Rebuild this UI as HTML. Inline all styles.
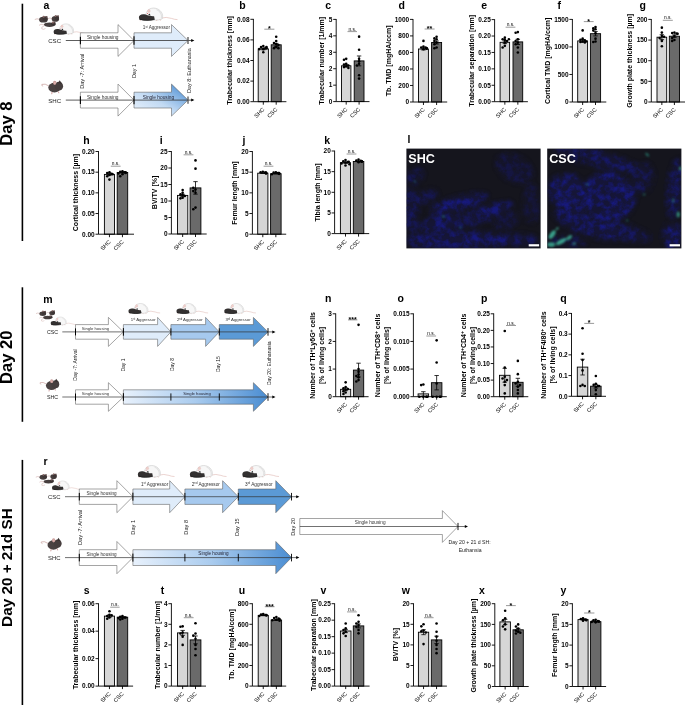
<!DOCTYPE html>
<html><head><meta charset="utf-8"><title>Figure</title>
<style>html,body{margin:0;padding:0;background:#fff}svg{display:block}text{font-family:"Liberation Sans",Arial,sans-serif}</style>
</head><body>
<svg width="685" height="705" viewBox="0 0 685 705" font-family="Liberation Sans, Arial, sans-serif">
<defs>
<linearGradient id="gS" x1="0" y1="1" x2="1" y2="0"><stop offset="0" stop-color="#eef5fd"/><stop offset="0.45" stop-color="#c2daf3"/><stop offset="1" stop-color="#3f86d0"/></linearGradient>
<linearGradient id="gL" x1="0" y1="0" x2="1" y2="0"><stop offset="0" stop-color="#e8f1fc"/><stop offset="0.5" stop-color="#a9cbee"/><stop offset="1" stop-color="#4a8dd2"/></linearGradient>
<filter id="bl" x="-20%" y="-20%" width="140%" height="140%"><feGaussianBlur stdDeviation="2.8"/></filter>
<filter id="bl1" x="-20%" y="-20%" width="140%" height="140%"><feGaussianBlur stdDeviation="0.9"/></filter>
<clipPath id="c1"><rect x="406.4" y="148.6" width="134.2" height="99.8"/></clipPath>
<clipPath id="c2"><rect x="547.2" y="148.6" width="134.2" height="99.8"/></clipPath>
</defs>
<rect width="685" height="705" fill="#fff"/>
<path d="M22.4 3.7V241" stroke="#000" stroke-width="1.6"/>
<path d="M22.4 287.3V421.8" stroke="#000" stroke-width="1.6"/>
<path d="M22.4 459.9V705" stroke="#000" stroke-width="1.6"/>
<text x="12.10" y="123.70" font-size="16.6" font-weight="bold" text-anchor="middle" fill="#000" transform="rotate(-90 12.10 123.70)">Day 8</text>
<text x="12.10" y="357.20" font-size="16.6" font-weight="bold" text-anchor="middle" fill="#000" transform="rotate(-90 12.10 357.20)">Day 20</text>
<text x="12.00" y="567.60" font-size="15.3" font-weight="bold" text-anchor="middle" fill="#000" transform="rotate(-90 12.00 567.60)">Day 20 + 21d SH</text>
<text x="43.60" y="8.80" font-size="10.5" font-weight="bold" text-anchor="start" fill="#000">a</text>
<g transform="translate(35.00 13.50) scale(1.0)">
<g transform="translate(8.40 5.80) scale(1.075 1.031)"><path d="M-3.5 0.2Q-6 -1.2 -8 0.2" stroke="#c9a3a0" stroke-width="0.6" fill="none"/><ellipse cx="0" cy="0.4" rx="4" ry="2.8" fill="#463e3e"/><ellipse cx="1.6" cy="-0.6" rx="2.4" ry="2.3" fill="#3d3535"/><circle cx="0.2" cy="-2.5" r="1.0" fill="#8a6a68"/><circle cx="3.0" cy="-2.4" r="0.9" fill="#6a5352"/></g>
<g transform="translate(20.40 5.00) scale(0.925 1.000)"><path d="M-3.5 0.2Q-6 -1.2 -8 0.2" stroke="#c9a3a0" stroke-width="0.6" fill="none"/><ellipse cx="0" cy="0.4" rx="4" ry="2.8" fill="#463e3e"/><ellipse cx="1.6" cy="-0.6" rx="2.4" ry="2.3" fill="#3d3535"/><circle cx="0.2" cy="-2.5" r="1.0" fill="#8a6a68"/><circle cx="3.0" cy="-2.4" r="0.9" fill="#6a5352"/></g>
<g transform="translate(14.50 10.90) scale(1.000 0.833)"><path d="M-5.5 0.5Q-9 -1 -10.5 1.2" stroke="#c9a3a0" stroke-width="0.6" fill="none"/><ellipse cx="0" cy="0.3" rx="5.6" ry="2.7" fill="#463e3e"/><ellipse cx="4.0" cy="-0.4" rx="2.4" ry="2.1" fill="#3a3333"/><circle cx="3.4" cy="-2.3" r="1.1" fill="#8a6a68"/><circle cx="5.1" cy="-2.2" r="0.9" fill="#5a4848"/></g>
<path d="M9.5 12.2Q5.5 13.6 6.8 15.4Q8.5 16.4 10.5 15" stroke="#c9a3a0" stroke-width="0.5" fill="none"/>
</g>
<g transform="translate(64.20 28.70) scale(0.84)"><path d="M9 4.4Q15 2.8 20 4.6Q23 5.8 26 5.8" stroke="#ddb3ad" stroke-width="0.6" fill="none"/><path d="M-5.8 2.5C-5.8 -3.7 -1 -6.4 3.5 -5.6C9 -4.8 12.6 0.5 10.6 5.2C7 6.8 0 6.4 -3 5.6Z" fill="#f7f7f7" stroke="#c2c2c2" stroke-width="0.55"/><path d="M5 -4.4C9 -2.6 11 1.6 9.8 4.8" stroke="#e2e2e2" stroke-width="1.2" fill="none"/><ellipse cx="-2.6" cy="-2.8" rx="1.4" ry="1.6" fill="#f0cfcb" stroke="#d8b3b0" stroke-width="0.3"/><circle cx="-3.9" cy="-0.4" r="0.5" fill="#c44"/><path d="M-12.6 3.8C-12.8 0.8 -9.2 -0.4 -5.8 0.8C-2.8 1.9 -0.6 2.6 2.6 2.4L3.2 5.8C-2 7.2 -9 7.0 -12 6.0Z" fill="#333030"/><path d="M-12.0 5.2C-8 6.9 -1 6.9 3.0 5.6" stroke="#1f1f1f" stroke-width="0.8" fill="none"/><path d="M-3.4 1.2l1.6 -1.4l0.8 2" fill="#222"/><path d="M5.0 6.2l0.4 1.0M8.4 5.6l0.6 1.2M-11 6.4l-0.3 0.9" stroke="#ddb3ad" stroke-width="0.7"/></g>
<text x="48.20" y="43.00" font-size="6.1" font-weight="normal" text-anchor="start" fill="#222">CSC</text>
<text x="48.20" y="102.90" font-size="6.1" font-weight="normal" text-anchor="start" fill="#222">SHC</text>
<path d="M80.40 32.80H118.00V24.60L134.00 40.50L118.00 56.40V48.20H80.40Z" fill="#fff" stroke="#5a5a5a" stroke-width="0.55" stroke-linejoin="miter"/>
<path d="M134.00 32.80H171.50V24.60L188.00 40.50L171.50 56.40V48.20H134.00Z" fill="#dfecfa" stroke="#5a5a5a" stroke-width="0.55" stroke-linejoin="miter"/>
<path d="M80.40 92.20H118.00V84.10L134.00 100.10L118.00 116.10V108.00H80.40Z" fill="#fff" stroke="#5a5a5a" stroke-width="0.55" stroke-linejoin="miter"/>
<path d="M134.00 92.20H171.50V84.10L188.00 100.10L171.50 116.10V108.00H134.00Z" fill="url(#gS)" stroke="#5a5a5a" stroke-width="0.55" stroke-linejoin="miter"/>
<path d="M65.80 40.50H192.40" stroke="#333" stroke-width="0.8"/>
<path d="M194.40 40.50l-3.2 -1.5v3z" fill="#000"/>
<path d="M65.80 100.10H192.40" stroke="#333" stroke-width="0.8"/>
<path d="M194.40 100.10l-3.2 -1.5v3z" fill="#000"/>
<path d="M80.40 36.70V44.30" stroke="#000" stroke-width="1.1"/>
<path d="M134.00 36.30V44.70" stroke="#000" stroke-width="1.1"/>
<path d="M188.00 36.90V44.10" stroke="#555" stroke-width="1.3"/>
<path d="M80.40 96.30V103.90" stroke="#000" stroke-width="1.1"/>
<path d="M134.00 95.90V104.30" stroke="#000" stroke-width="1.1"/>
<path d="M188.00 96.50V103.70" stroke="#555" stroke-width="1.3"/>
<text x="102.80" y="39.00" font-size="4.8" font-weight="normal" text-anchor="middle" fill="#333">Single housing</text>
<text x="102.80" y="98.60" font-size="4.8" font-weight="normal" text-anchor="middle" fill="#333">Single housing</text>
<text x="158.40" y="99.40" font-size="4.8" font-weight="normal" text-anchor="middle" fill="#223">Single housing</text>
<text x="156.40" y="29.00" font-size="4.7" font-weight="normal" text-anchor="middle" fill="#333">1<tspan font-size="60%" dy="-1.3">st</tspan><tspan dy="1.3"> Aggressor</tspan></text>
<g transform="translate(151.50 13.80) scale(1.0)"><path d="M9 4.4Q15 2.8 20 4.6Q23 5.8 26 5.8" stroke="#ddb3ad" stroke-width="0.6" fill="none"/><path d="M-5.8 2.5C-5.8 -3.7 -1 -6.4 3.5 -5.6C9 -4.8 12.6 0.5 10.6 5.2C7 6.8 0 6.4 -3 5.6Z" fill="#f7f7f7" stroke="#c2c2c2" stroke-width="0.55"/><path d="M5 -4.4C9 -2.6 11 1.6 9.8 4.8" stroke="#e2e2e2" stroke-width="1.2" fill="none"/><ellipse cx="-2.6" cy="-2.8" rx="1.4" ry="1.6" fill="#f0cfcb" stroke="#d8b3b0" stroke-width="0.3"/><circle cx="-3.9" cy="-0.4" r="0.5" fill="#c44"/><path d="M-12.6 3.8C-12.8 0.8 -9.2 -0.4 -5.8 0.8C-2.8 1.9 -0.6 2.6 2.6 2.4L3.2 5.8C-2 7.2 -9 7.0 -12 6.0Z" fill="#333030"/><path d="M-12.0 5.2C-8 6.9 -1 6.9 3.0 5.6" stroke="#1f1f1f" stroke-width="0.8" fill="none"/><path d="M-3.4 1.2l1.6 -1.4l0.8 2" fill="#222"/><path d="M5.0 6.2l0.4 1.0M8.4 5.6l0.6 1.2M-11 6.4l-0.3 0.9" stroke="#ddb3ad" stroke-width="0.7"/></g>
<g transform="translate(55.50 86.80) scale(1.0)"><path d="M-6.6 -0.8Q-10.5 -3.6 -13.6 -2.4Q-14.6 -1.4 -12.4 -0.6" stroke="#c79c99" stroke-width="0.7" fill="none"/><ellipse cx="-1.0" cy="0.8" rx="6.2" ry="4.9" fill="#4a4242"/><ellipse cx="3.4" cy="-0.6" rx="4.2" ry="4.4" fill="#463e3e"/><path d="M2.6 -3.6L4.2 -6.6L6.6 -3Z" fill="#3a3232"/><ellipse cx="-0.8" cy="-4.0" rx="1.7" ry="2.1" fill="#c79a97"/><ellipse cx="-0.7" cy="-3.8" rx="1.0" ry="1.3" fill="#dcb0ac"/><path d="M-3.4 5.2l-0.4 2.2M3.0 4.8l0.3 1.6" stroke="#c98f8f" stroke-width="0.9"/></g>
<text x="84.22" y="71.30" font-size="5.6" font-weight="normal" text-anchor="middle" fill="#222" transform="rotate(-90 84.22 71.30)">Day -7: Arrival</text>
<text x="135.94" y="71.00" font-size="5.4" font-weight="normal" text-anchor="middle" fill="#222" transform="rotate(-90 135.94 71.00)">Day 1</text>
<text x="190.78" y="70.60" font-size="5.5" font-weight="normal" text-anchor="middle" fill="#222" transform="rotate(-90 190.78 70.60)">Day 8: Euthanasia</text>
<text x="43.20" y="302.90" font-size="10.5" font-weight="bold" text-anchor="start" fill="#000">m</text>
<g transform="translate(36.20 308.90) scale(0.78)">
<g transform="translate(8.40 5.80) scale(1.075 1.031)"><path d="M-3.5 0.2Q-6 -1.2 -8 0.2" stroke="#c9a3a0" stroke-width="0.6" fill="none"/><ellipse cx="0" cy="0.4" rx="4" ry="2.8" fill="#463e3e"/><ellipse cx="1.6" cy="-0.6" rx="2.4" ry="2.3" fill="#3d3535"/><circle cx="0.2" cy="-2.5" r="1.0" fill="#8a6a68"/><circle cx="3.0" cy="-2.4" r="0.9" fill="#6a5352"/></g>
<g transform="translate(20.40 5.00) scale(0.925 1.000)"><path d="M-3.5 0.2Q-6 -1.2 -8 0.2" stroke="#c9a3a0" stroke-width="0.6" fill="none"/><ellipse cx="0" cy="0.4" rx="4" ry="2.8" fill="#463e3e"/><ellipse cx="1.6" cy="-0.6" rx="2.4" ry="2.3" fill="#3d3535"/><circle cx="0.2" cy="-2.5" r="1.0" fill="#8a6a68"/><circle cx="3.0" cy="-2.4" r="0.9" fill="#6a5352"/></g>
<g transform="translate(14.50 10.90) scale(1.000 0.833)"><path d="M-5.5 0.5Q-9 -1 -10.5 1.2" stroke="#c9a3a0" stroke-width="0.6" fill="none"/><ellipse cx="0" cy="0.3" rx="5.6" ry="2.7" fill="#463e3e"/><ellipse cx="4.0" cy="-0.4" rx="2.4" ry="2.1" fill="#3a3333"/><circle cx="3.4" cy="-2.3" r="1.1" fill="#8a6a68"/><circle cx="5.1" cy="-2.2" r="0.9" fill="#5a4848"/></g>
<path d="M9.5 12.2Q5.5 13.6 6.8 15.4Q8.5 16.4 10.5 15" stroke="#c9a3a0" stroke-width="0.5" fill="none"/>
</g>
<g transform="translate(58.98 320.76) scale(0.6552)"><path d="M9 4.4Q15 2.8 20 4.6Q23 5.8 26 5.8" stroke="#ddb3ad" stroke-width="0.6" fill="none"/><path d="M-5.8 2.5C-5.8 -3.7 -1 -6.4 3.5 -5.6C9 -4.8 12.6 0.5 10.6 5.2C7 6.8 0 6.4 -3 5.6Z" fill="#f7f7f7" stroke="#c2c2c2" stroke-width="0.55"/><path d="M5 -4.4C9 -2.6 11 1.6 9.8 4.8" stroke="#e2e2e2" stroke-width="1.2" fill="none"/><ellipse cx="-2.6" cy="-2.8" rx="1.4" ry="1.6" fill="#f0cfcb" stroke="#d8b3b0" stroke-width="0.3"/><circle cx="-3.9" cy="-0.4" r="0.5" fill="#c44"/><path d="M-12.6 3.8C-12.8 0.8 -9.2 -0.4 -5.8 0.8C-2.8 1.9 -0.6 2.6 2.6 2.4L3.2 5.8C-2 7.2 -9 7.0 -12 6.0Z" fill="#333030"/><path d="M-12.0 5.2C-8 6.9 -1 6.9 3.0 5.6" stroke="#1f1f1f" stroke-width="0.8" fill="none"/><path d="M-3.4 1.2l1.6 -1.4l0.8 2" fill="#222"/><path d="M5.0 6.2l0.4 1.0M8.4 5.6l0.6 1.2M-11 6.4l-0.3 0.9" stroke="#ddb3ad" stroke-width="0.7"/></g>
<text x="47.00" y="334.00" font-size="5.3" font-weight="normal" text-anchor="start" fill="#222">CSC</text>
<text x="47.00" y="399.40" font-size="5.3" font-weight="normal" text-anchor="start" fill="#222">SHC</text>
<path d="M75.50 324.60H108.40V317.40L123.40 331.90L108.40 346.40V339.20H75.50Z" fill="#fff" stroke="#5a5a5a" stroke-width="0.55" stroke-linejoin="miter"/>
<path d="M123.40 324.60H157.60V317.40L170.90 331.90L157.60 346.40V339.20H123.40Z" fill="#dfecfa" stroke="#5a5a5a" stroke-width="0.55" stroke-linejoin="miter"/>
<path d="M170.90 324.60H205.60V317.40L219.30 331.90L205.60 346.40V339.20H170.90Z" fill="#a6c9ee" stroke="#5a5a5a" stroke-width="0.55" stroke-linejoin="miter"/>
<path d="M219.30 324.60H253.40V317.40L268.00 331.90L253.40 346.40V339.20H219.30Z" fill="#5b9ad6" stroke="#5a5a5a" stroke-width="0.55" stroke-linejoin="miter"/>
<path d="M75.50 389.80H108.40V382.70L123.40 397.00L108.40 411.30V404.20H75.50Z" fill="#fff" stroke="#5a5a5a" stroke-width="0.55" stroke-linejoin="miter"/>
<path d="M123.40 389.80H253.40V382.70L268.00 397.00L253.40 411.30V404.20H123.40Z" fill="url(#gL)" stroke="#5a5a5a" stroke-width="0.55" stroke-linejoin="miter"/>
<path d="M62.30 331.90H273.50" stroke="#333" stroke-width="0.7"/>
<path d="M275.50 331.90l-3.2 -1.5v3z" fill="#000"/>
<path d="M62.30 397.00H273.50" stroke="#333" stroke-width="0.7"/>
<path d="M275.50 397.00l-3.2 -1.5v3z" fill="#000"/>
<path d="M75.50 328.40V335.40" stroke="#000" stroke-width="1.0"/>
<path d="M123.40 328.10V335.70" stroke="#000" stroke-width="1.0"/>
<path d="M170.90 328.30V335.50" stroke="#000" stroke-width="0.9"/>
<path d="M219.30 328.30V335.50" stroke="#000" stroke-width="0.9"/>
<path d="M268.00 328.10V335.70" stroke="#000" stroke-width="0.9"/>
<path d="M75.50 393.50V400.50" stroke="#000" stroke-width="1.0"/>
<path d="M123.40 393.20V400.80" stroke="#000" stroke-width="1.0"/>
<path d="M170.90 393.40V400.60" stroke="#000" stroke-width="0.9"/>
<path d="M219.30 393.40V400.60" stroke="#000" stroke-width="0.9"/>
<path d="M268.00 393.20V400.80" stroke="#000" stroke-width="0.9"/>
<text x="95.40" y="330.20" font-size="4.2" font-weight="normal" text-anchor="middle" fill="#333">Single housing</text>
<text x="95.40" y="395.40" font-size="4.2" font-weight="normal" text-anchor="middle" fill="#333">Single housing</text>
<text x="197.00" y="395.00" font-size="4.2" font-weight="normal" text-anchor="middle" fill="#223">Single housing</text>
<text x="143.30" y="321.20" font-size="4.3" font-weight="normal" text-anchor="middle" fill="#333">1<tspan font-size="60%" dy="-1.3">st</tspan><tspan dy="1.3"> Aggressor</tspan></text>
<text x="189.80" y="321.20" font-size="4.3" font-weight="normal" text-anchor="middle" fill="#333">2<tspan font-size="60%" dy="-1.3">nd</tspan><tspan dy="1.3"> Aggressor</tspan></text>
<text x="238.00" y="321.20" font-size="4.3" font-weight="normal" text-anchor="middle" fill="#333">3<tspan font-size="60%" dy="-1.3">rd</tspan><tspan dy="1.3"> Aggressor</tspan></text>
<g transform="translate(138.80 308.20) scale(0.82)"><path d="M9 4.4Q15 2.8 20 4.6Q23 5.8 26 5.8" stroke="#ddb3ad" stroke-width="0.6" fill="none"/><path d="M-5.8 2.5C-5.8 -3.7 -1 -6.4 3.5 -5.6C9 -4.8 12.6 0.5 10.6 5.2C7 6.8 0 6.4 -3 5.6Z" fill="#f7f7f7" stroke="#c2c2c2" stroke-width="0.55"/><path d="M5 -4.4C9 -2.6 11 1.6 9.8 4.8" stroke="#e2e2e2" stroke-width="1.2" fill="none"/><ellipse cx="-2.6" cy="-2.8" rx="1.4" ry="1.6" fill="#f0cfcb" stroke="#d8b3b0" stroke-width="0.3"/><circle cx="-3.9" cy="-0.4" r="0.5" fill="#c44"/><path d="M-12.6 3.8C-12.8 0.8 -9.2 -0.4 -5.8 0.8C-2.8 1.9 -0.6 2.6 2.6 2.4L3.2 5.8C-2 7.2 -9 7.0 -12 6.0Z" fill="#333030"/><path d="M-12.0 5.2C-8 6.9 -1 6.9 3.0 5.6" stroke="#1f1f1f" stroke-width="0.8" fill="none"/><path d="M-3.4 1.2l1.6 -1.4l0.8 2" fill="#222"/><path d="M5.0 6.2l0.4 1.0M8.4 5.6l0.6 1.2M-11 6.4l-0.3 0.9" stroke="#ddb3ad" stroke-width="0.7"/></g>
<g transform="translate(186.80 308.20) scale(0.82)"><path d="M9 4.4Q15 2.8 20 4.6Q23 5.8 26 5.8" stroke="#ddb3ad" stroke-width="0.6" fill="none"/><path d="M-5.8 2.5C-5.8 -3.7 -1 -6.4 3.5 -5.6C9 -4.8 12.6 0.5 10.6 5.2C7 6.8 0 6.4 -3 5.6Z" fill="#f7f7f7" stroke="#c2c2c2" stroke-width="0.55"/><path d="M5 -4.4C9 -2.6 11 1.6 9.8 4.8" stroke="#e2e2e2" stroke-width="1.2" fill="none"/><ellipse cx="-2.6" cy="-2.8" rx="1.4" ry="1.6" fill="#f0cfcb" stroke="#d8b3b0" stroke-width="0.3"/><circle cx="-3.9" cy="-0.4" r="0.5" fill="#c44"/><path d="M-12.6 3.8C-12.8 0.8 -9.2 -0.4 -5.8 0.8C-2.8 1.9 -0.6 2.6 2.6 2.4L3.2 5.8C-2 7.2 -9 7.0 -12 6.0Z" fill="#333030"/><path d="M-12.0 5.2C-8 6.9 -1 6.9 3.0 5.6" stroke="#1f1f1f" stroke-width="0.8" fill="none"/><path d="M-3.4 1.2l1.6 -1.4l0.8 2" fill="#222"/><path d="M5.0 6.2l0.4 1.0M8.4 5.6l0.6 1.2M-11 6.4l-0.3 0.9" stroke="#ddb3ad" stroke-width="0.7"/></g>
<g transform="translate(234.60 308.20) scale(0.82)"><path d="M9 4.4Q15 2.8 20 4.6Q23 5.8 26 5.8" stroke="#ddb3ad" stroke-width="0.6" fill="none"/><path d="M-5.8 2.5C-5.8 -3.7 -1 -6.4 3.5 -5.6C9 -4.8 12.6 0.5 10.6 5.2C7 6.8 0 6.4 -3 5.6Z" fill="#f7f7f7" stroke="#c2c2c2" stroke-width="0.55"/><path d="M5 -4.4C9 -2.6 11 1.6 9.8 4.8" stroke="#e2e2e2" stroke-width="1.2" fill="none"/><ellipse cx="-2.6" cy="-2.8" rx="1.4" ry="1.6" fill="#f0cfcb" stroke="#d8b3b0" stroke-width="0.3"/><circle cx="-3.9" cy="-0.4" r="0.5" fill="#c44"/><path d="M-12.6 3.8C-12.8 0.8 -9.2 -0.4 -5.8 0.8C-2.8 1.9 -0.6 2.6 2.6 2.4L3.2 5.8C-2 7.2 -9 7.0 -12 6.0Z" fill="#333030"/><path d="M-12.0 5.2C-8 6.9 -1 6.9 3.0 5.6" stroke="#1f1f1f" stroke-width="0.8" fill="none"/><path d="M-3.4 1.2l1.6 -1.4l0.8 2" fill="#222"/><path d="M5.0 6.2l0.4 1.0M8.4 5.6l0.6 1.2M-11 6.4l-0.3 0.9" stroke="#ddb3ad" stroke-width="0.7"/></g>
<g transform="translate(52.40 384.80) scale(0.9)"><path d="M-6.6 -0.8Q-10.5 -3.6 -13.6 -2.4Q-14.6 -1.4 -12.4 -0.6" stroke="#c79c99" stroke-width="0.7" fill="none"/><ellipse cx="-1.0" cy="0.8" rx="6.2" ry="4.9" fill="#4a4242"/><ellipse cx="3.4" cy="-0.6" rx="4.2" ry="4.4" fill="#463e3e"/><path d="M2.6 -3.6L4.2 -6.6L6.6 -3Z" fill="#3a3232"/><ellipse cx="-0.8" cy="-4.0" rx="1.7" ry="2.1" fill="#c79a97"/><ellipse cx="-0.7" cy="-3.8" rx="1.0" ry="1.3" fill="#dcb0ac"/><path d="M-3.4 5.2l-0.4 2.2M3.0 4.8l0.3 1.6" stroke="#c98f8f" stroke-width="0.9"/></g>
<text x="77.30" y="365.00" font-size="5.0" font-weight="normal" text-anchor="middle" fill="#222" transform="rotate(-90 77.30 365.00)">Day -7: Arrival</text>
<text x="125.20" y="365.00" font-size="5.0" font-weight="normal" text-anchor="middle" fill="#222" transform="rotate(-90 125.20 365.00)">Day 1</text>
<text x="174.00" y="364.50" font-size="5.0" font-weight="normal" text-anchor="middle" fill="#222" transform="rotate(-90 174.00 364.50)">Day 8</text>
<text x="220.50" y="364.20" font-size="5.0" font-weight="normal" text-anchor="middle" fill="#222" transform="rotate(-90 220.50 364.20)">Day 15</text>
<text x="270.80" y="363.20" font-size="5.0" font-weight="normal" text-anchor="middle" fill="#222" transform="rotate(-90 270.80 363.20)">Day 20: Euthanasia</text>
<text x="43.40" y="464.90" font-size="10.5" font-weight="bold" text-anchor="start" fill="#000">r</text>
<g transform="translate(36.00 472.00) scale(0.86)">
<g transform="translate(8.40 5.80) scale(1.075 1.031)"><path d="M-3.5 0.2Q-6 -1.2 -8 0.2" stroke="#c9a3a0" stroke-width="0.6" fill="none"/><ellipse cx="0" cy="0.4" rx="4" ry="2.8" fill="#463e3e"/><ellipse cx="1.6" cy="-0.6" rx="2.4" ry="2.3" fill="#3d3535"/><circle cx="0.2" cy="-2.5" r="1.0" fill="#8a6a68"/><circle cx="3.0" cy="-2.4" r="0.9" fill="#6a5352"/></g>
<g transform="translate(20.40 5.00) scale(0.925 1.000)"><path d="M-3.5 0.2Q-6 -1.2 -8 0.2" stroke="#c9a3a0" stroke-width="0.6" fill="none"/><ellipse cx="0" cy="0.4" rx="4" ry="2.8" fill="#463e3e"/><ellipse cx="1.6" cy="-0.6" rx="2.4" ry="2.3" fill="#3d3535"/><circle cx="0.2" cy="-2.5" r="1.0" fill="#8a6a68"/><circle cx="3.0" cy="-2.4" r="0.9" fill="#6a5352"/></g>
<g transform="translate(14.50 10.90) scale(1.000 0.833)"><path d="M-5.5 0.5Q-9 -1 -10.5 1.2" stroke="#c9a3a0" stroke-width="0.6" fill="none"/><ellipse cx="0" cy="0.3" rx="5.6" ry="2.7" fill="#463e3e"/><ellipse cx="4.0" cy="-0.4" rx="2.4" ry="2.1" fill="#3a3333"/><circle cx="3.4" cy="-2.3" r="1.1" fill="#8a6a68"/><circle cx="5.1" cy="-2.2" r="0.9" fill="#5a4848"/></g>
<path d="M9.5 12.2Q5.5 13.6 6.8 15.4Q8.5 16.4 10.5 15" stroke="#c9a3a0" stroke-width="0.5" fill="none"/>
</g>
<g transform="translate(61.11 485.07) scale(0.7223999999999999)"><path d="M9 4.4Q15 2.8 20 4.6Q23 5.8 26 5.8" stroke="#ddb3ad" stroke-width="0.6" fill="none"/><path d="M-5.8 2.5C-5.8 -3.7 -1 -6.4 3.5 -5.6C9 -4.8 12.6 0.5 10.6 5.2C7 6.8 0 6.4 -3 5.6Z" fill="#f7f7f7" stroke="#c2c2c2" stroke-width="0.55"/><path d="M5 -4.4C9 -2.6 11 1.6 9.8 4.8" stroke="#e2e2e2" stroke-width="1.2" fill="none"/><ellipse cx="-2.6" cy="-2.8" rx="1.4" ry="1.6" fill="#f0cfcb" stroke="#d8b3b0" stroke-width="0.3"/><circle cx="-3.9" cy="-0.4" r="0.5" fill="#c44"/><path d="M-12.6 3.8C-12.8 0.8 -9.2 -0.4 -5.8 0.8C-2.8 1.9 -0.6 2.6 2.6 2.4L3.2 5.8C-2 7.2 -9 7.0 -12 6.0Z" fill="#333030"/><path d="M-12.0 5.2C-8 6.9 -1 6.9 3.0 5.6" stroke="#1f1f1f" stroke-width="0.8" fill="none"/><path d="M-3.4 1.2l1.6 -1.4l0.8 2" fill="#222"/><path d="M5.0 6.2l0.4 1.0M8.4 5.6l0.6 1.2M-11 6.4l-0.3 0.9" stroke="#ddb3ad" stroke-width="0.7"/></g>
<text x="48.00" y="499.00" font-size="5.9" font-weight="normal" text-anchor="start" fill="#222">CSC</text>
<text x="48.00" y="559.80" font-size="5.9" font-weight="normal" text-anchor="start" fill="#222">SHC</text>
<path d="M79.30 489.00H116.90V480.70L132.90 496.70L116.90 512.70V504.40H79.30Z" fill="#fff" stroke="#5a5a5a" stroke-width="0.55" stroke-linejoin="miter"/>
<path d="M132.90 489.00H169.70V480.70L184.90 496.70L169.70 512.70V504.40H132.90Z" fill="#dfecfa" stroke="#5a5a5a" stroke-width="0.55" stroke-linejoin="miter"/>
<path d="M184.90 489.00H222.60V480.70L238.30 496.70L222.60 512.70V504.40H184.90Z" fill="#a6c9ee" stroke="#5a5a5a" stroke-width="0.55" stroke-linejoin="miter"/>
<path d="M238.30 489.00H275.80V480.70L291.50 496.70L275.80 512.70V504.40H238.30Z" fill="#5b9ad6" stroke="#5a5a5a" stroke-width="0.55" stroke-linejoin="miter"/>
<path d="M79.30 549.70H116.90V541.50L132.90 557.60L116.90 573.70V565.50H79.30Z" fill="#fff" stroke="#5a5a5a" stroke-width="0.55" stroke-linejoin="miter"/>
<path d="M132.90 549.70H275.80V541.50L291.50 557.60L275.80 573.70V565.50H132.90Z" fill="url(#gL)" stroke="#5a5a5a" stroke-width="0.55" stroke-linejoin="miter"/>
<path d="M299.80 518.50H442.40V510.60L458.00 526.50L442.40 542.40V534.50H299.80Z" fill="#fff" stroke="#5a5a5a" stroke-width="0.55" stroke-linejoin="miter"/>
<path d="M65.00 496.70H297.40" stroke="#333" stroke-width="0.7"/>
<path d="M299.40 496.70l-3.2 -1.5v3z" fill="#000"/>
<path d="M65.00 557.60H297.40" stroke="#333" stroke-width="0.7"/>
<path d="M299.40 557.60l-3.2 -1.5v3z" fill="#000"/>
<path d="M299.80 526.50H466.00" stroke="#333" stroke-width="0.7"/>
<path d="M468.00 526.50l-3.2 -1.5v3z" fill="#000"/>
<path d="M79.30 492.90V500.50" stroke="#000" stroke-width="1.0"/>
<path d="M132.90 492.70V500.70" stroke="#000" stroke-width="1.0"/>
<path d="M184.90 492.90V500.50" stroke="#000" stroke-width="0.9"/>
<path d="M238.30 492.90V500.50" stroke="#000" stroke-width="0.9"/>
<path d="M291.50 492.90V500.50" stroke="#000" stroke-width="0.9"/>
<path d="M79.30 553.80V561.40" stroke="#000" stroke-width="1.0"/>
<path d="M132.90 553.60V561.60" stroke="#000" stroke-width="1.0"/>
<path d="M184.90 553.80V561.40" stroke="#000" stroke-width="0.9"/>
<path d="M238.30 553.80V561.40" stroke="#000" stroke-width="0.9"/>
<path d="M291.50 553.80V561.40" stroke="#000" stroke-width="0.9"/>
<path d="M458.00 522.90V530.10" stroke="#000" stroke-width="0.9"/>
<text x="101.60" y="494.90" font-size="4.6" font-weight="normal" text-anchor="middle" fill="#333">Single housing</text>
<text x="101.60" y="555.70" font-size="4.6" font-weight="normal" text-anchor="middle" fill="#333">Single housing</text>
<text x="213.40" y="555.30" font-size="4.6" font-weight="normal" text-anchor="middle" fill="#223">Single housing</text>
<text x="370.20" y="523.60" font-size="4.7" font-weight="normal" text-anchor="middle" fill="#333">Single housing</text>
<text x="154.60" y="485.60" font-size="4.7" font-weight="normal" text-anchor="middle" fill="#333">1<tspan font-size="60%" dy="-1.3">st</tspan><tspan dy="1.3"> Aggressor</tspan></text>
<text x="205.80" y="485.60" font-size="4.7" font-weight="normal" text-anchor="middle" fill="#333">2<tspan font-size="60%" dy="-1.3">nd</tspan><tspan dy="1.3"> Aggressor</tspan></text>
<text x="258.80" y="485.60" font-size="4.7" font-weight="normal" text-anchor="middle" fill="#333">3<tspan font-size="60%" dy="-1.3">rd</tspan><tspan dy="1.3"> Aggressor</tspan></text>
<g transform="translate(149.80 471.00) scale(0.95)"><path d="M9 4.4Q15 2.8 20 4.6Q23 5.8 26 5.8" stroke="#ddb3ad" stroke-width="0.6" fill="none"/><path d="M-5.8 2.5C-5.8 -3.7 -1 -6.4 3.5 -5.6C9 -4.8 12.6 0.5 10.6 5.2C7 6.8 0 6.4 -3 5.6Z" fill="#f7f7f7" stroke="#c2c2c2" stroke-width="0.55"/><path d="M5 -4.4C9 -2.6 11 1.6 9.8 4.8" stroke="#e2e2e2" stroke-width="1.2" fill="none"/><ellipse cx="-2.6" cy="-2.8" rx="1.4" ry="1.6" fill="#f0cfcb" stroke="#d8b3b0" stroke-width="0.3"/><circle cx="-3.9" cy="-0.4" r="0.5" fill="#c44"/><path d="M-12.6 3.8C-12.8 0.8 -9.2 -0.4 -5.8 0.8C-2.8 1.9 -0.6 2.6 2.6 2.4L3.2 5.8C-2 7.2 -9 7.0 -12 6.0Z" fill="#333030"/><path d="M-12.0 5.2C-8 6.9 -1 6.9 3.0 5.6" stroke="#1f1f1f" stroke-width="0.8" fill="none"/><path d="M-3.4 1.2l1.6 -1.4l0.8 2" fill="#222"/><path d="M5.0 6.2l0.4 1.0M8.4 5.6l0.6 1.2M-11 6.4l-0.3 0.9" stroke="#ddb3ad" stroke-width="0.7"/></g>
<g transform="translate(201.80 471.00) scale(0.95)"><path d="M9 4.4Q15 2.8 20 4.6Q23 5.8 26 5.8" stroke="#ddb3ad" stroke-width="0.6" fill="none"/><path d="M-5.8 2.5C-5.8 -3.7 -1 -6.4 3.5 -5.6C9 -4.8 12.6 0.5 10.6 5.2C7 6.8 0 6.4 -3 5.6Z" fill="#f7f7f7" stroke="#c2c2c2" stroke-width="0.55"/><path d="M5 -4.4C9 -2.6 11 1.6 9.8 4.8" stroke="#e2e2e2" stroke-width="1.2" fill="none"/><ellipse cx="-2.6" cy="-2.8" rx="1.4" ry="1.6" fill="#f0cfcb" stroke="#d8b3b0" stroke-width="0.3"/><circle cx="-3.9" cy="-0.4" r="0.5" fill="#c44"/><path d="M-12.6 3.8C-12.8 0.8 -9.2 -0.4 -5.8 0.8C-2.8 1.9 -0.6 2.6 2.6 2.4L3.2 5.8C-2 7.2 -9 7.0 -12 6.0Z" fill="#333030"/><path d="M-12.0 5.2C-8 6.9 -1 6.9 3.0 5.6" stroke="#1f1f1f" stroke-width="0.8" fill="none"/><path d="M-3.4 1.2l1.6 -1.4l0.8 2" fill="#222"/><path d="M5.0 6.2l0.4 1.0M8.4 5.6l0.6 1.2M-11 6.4l-0.3 0.9" stroke="#ddb3ad" stroke-width="0.7"/></g>
<g transform="translate(254.30 471.00) scale(0.95)"><path d="M9 4.4Q15 2.8 20 4.6Q23 5.8 26 5.8" stroke="#ddb3ad" stroke-width="0.6" fill="none"/><path d="M-5.8 2.5C-5.8 -3.7 -1 -6.4 3.5 -5.6C9 -4.8 12.6 0.5 10.6 5.2C7 6.8 0 6.4 -3 5.6Z" fill="#f7f7f7" stroke="#c2c2c2" stroke-width="0.55"/><path d="M5 -4.4C9 -2.6 11 1.6 9.8 4.8" stroke="#e2e2e2" stroke-width="1.2" fill="none"/><ellipse cx="-2.6" cy="-2.8" rx="1.4" ry="1.6" fill="#f0cfcb" stroke="#d8b3b0" stroke-width="0.3"/><circle cx="-3.9" cy="-0.4" r="0.5" fill="#c44"/><path d="M-12.6 3.8C-12.8 0.8 -9.2 -0.4 -5.8 0.8C-2.8 1.9 -0.6 2.6 2.6 2.4L3.2 5.8C-2 7.2 -9 7.0 -12 6.0Z" fill="#333030"/><path d="M-12.0 5.2C-8 6.9 -1 6.9 3.0 5.6" stroke="#1f1f1f" stroke-width="0.8" fill="none"/><path d="M-3.4 1.2l1.6 -1.4l0.8 2" fill="#222"/><path d="M5.0 6.2l0.4 1.0M8.4 5.6l0.6 1.2M-11 6.4l-0.3 0.9" stroke="#ddb3ad" stroke-width="0.7"/></g>
<g transform="translate(54.40 544.20) scale(0.96)"><path d="M-6.6 -0.8Q-10.5 -3.6 -13.6 -2.4Q-14.6 -1.4 -12.4 -0.6" stroke="#c79c99" stroke-width="0.7" fill="none"/><ellipse cx="-1.0" cy="0.8" rx="6.2" ry="4.9" fill="#4a4242"/><ellipse cx="3.4" cy="-0.6" rx="4.2" ry="4.4" fill="#463e3e"/><path d="M2.6 -3.6L4.2 -6.6L6.6 -3Z" fill="#3a3232"/><ellipse cx="-0.8" cy="-4.0" rx="1.7" ry="2.1" fill="#c79a97"/><ellipse cx="-0.7" cy="-3.8" rx="1.0" ry="1.3" fill="#dcb0ac"/><path d="M-3.4 5.2l-0.4 2.2M3.0 4.8l0.3 1.6" stroke="#c98f8f" stroke-width="0.9"/></g>
<text x="81.92" y="527.40" font-size="5.6" font-weight="normal" text-anchor="middle" fill="#222" transform="rotate(-90 81.92 527.40)">Day -7: Arrival</text>
<text x="134.92" y="527.30" font-size="5.6" font-weight="normal" text-anchor="middle" fill="#222" transform="rotate(-90 134.92 527.30)">Day 1</text>
<text x="188.42" y="527.30" font-size="5.6" font-weight="normal" text-anchor="middle" fill="#222" transform="rotate(-90 188.42 527.30)">Day 8</text>
<text x="239.42" y="527.20" font-size="5.6" font-weight="normal" text-anchor="middle" fill="#222" transform="rotate(-90 239.42 527.20)">Day 15</text>
<text x="294.62" y="526.80" font-size="5.6" font-weight="normal" text-anchor="middle" fill="#222" transform="rotate(-90 294.62 526.80)">Day 20</text>
<text x="469.60" y="544.30" font-size="5.15" font-weight="normal" text-anchor="middle" fill="#222">Day 20 + 21 d SH:</text>
<text x="470.10" y="552.00" font-size="5.15" font-weight="normal" text-anchor="middle" fill="#222">Euthansia</text>
<text x="407.40" y="143.00" font-size="10.5" font-weight="bold" text-anchor="start" fill="#000">l</text>
<rect x="406.4" y="148.6" width="134.2" height="99.8" fill="#15151d"/>
<mask id="mc1" maskUnits="userSpaceOnUse" x="406.4" y="148.6" width="134.2" height="99.8"><g filter="url(#bl)">
<ellipse cx="414.4" cy="176.6" rx="10" ry="7" transform="rotate(-30 414.4 176.6)" fill="#fff" opacity="0.5"/>
<ellipse cx="411.4" cy="210.6" rx="7" ry="24" transform="rotate(0 411.4 210.6)" fill="#fff" opacity="0.65"/>
<ellipse cx="426.4" cy="196.6" rx="12" ry="6" transform="rotate(-20 426.4 196.6)" fill="#fff" opacity="0.5"/>
<ellipse cx="458.4" cy="203.6" rx="30" ry="7" transform="rotate(-15 458.4 203.6)" fill="#fff" opacity="0.9"/>
<ellipse cx="482.4" cy="214.6" rx="32" ry="7" transform="rotate(-20 482.4 214.6)" fill="#fff" opacity="0.85"/>
<ellipse cx="441.4" cy="223.6" rx="22" ry="8" transform="rotate(-10 441.4 223.6)" fill="#fff" opacity="0.8"/>
<ellipse cx="466.4" cy="239.6" rx="50" ry="8" transform="rotate(0 466.4 239.6)" fill="#fff" opacity="0.85"/>
<ellipse cx="426.4" cy="240.6" rx="20" ry="7" transform="rotate(0 426.4 240.6)" fill="#fff" opacity="0.8"/>
<ellipse cx="522.4" cy="240.6" rx="16" ry="6" transform="rotate(0 522.4 240.6)" fill="#fff" opacity="0.6"/>
<ellipse cx="514.4" cy="168.6" rx="20" ry="13" transform="rotate(30 514.4 168.6)" fill="#fff" opacity="0.4"/>
<ellipse cx="531.4" cy="203.6" rx="8" ry="20" transform="rotate(0 531.4 203.6)" fill="#fff" opacity="0.35"/>
<ellipse cx="506.4" cy="220.6" rx="14" ry="6" transform="rotate(-25 506.4 220.6)" fill="#fff" opacity="0.5"/>
<ellipse cx="516.4" cy="170.6" rx="7" ry="5" transform="rotate(30 516.4 170.6)" fill="#000" opacity="0.5"/>
<ellipse cx="466.4" cy="220.6" rx="14" ry="2.5" transform="rotate(-18 466.4 220.6)" fill="#000" opacity="0.5"/>
<ellipse cx="501.4" cy="232.6" rx="20" ry="2.5" transform="rotate(-15 501.4 232.6)" fill="#000" opacity="0.5"/>
</g></mask>
<filter id="uc1" color-interpolation-filters="sRGB" filterUnits="userSpaceOnUse" x="406.4" y="148.6" width="134.2" height="99.8"><feTurbulence type="fractalNoise" baseFrequency="0.14" numOctaves="4" seed="7"/><feColorMatrix type="matrix" values="0 0 0 0 0.09  0 0 0 0 0.10  0 0 0 0 0.52  2.6 0 0 0 -0.95"/></filter>
<g clip-path="url(#c1)">
<rect x="406.4" y="148.6" width="134.2" height="99.8" fill="#17175c" opacity="0.5" mask="url(#mc1)"/>
<g mask="url(#mc1)"><rect x="406.4" y="148.6" width="134.2" height="99.8" filter="url(#uc1)"/></g>
<g filter="url(#bl1)">
<ellipse cx="414.9" cy="181.6" rx="0.8" ry="0.8" transform="rotate(0 414.9 181.6)" fill="#2f9f7a" opacity="0.8"/>
<ellipse cx="443.4" cy="216.6" rx="1.5" ry="1.0" transform="rotate(0 443.4 216.6)" fill="#2f9f7a" opacity="0.6"/>
<ellipse cx="460.4" cy="227.6" rx="1" ry="1" transform="rotate(0 460.4 227.6)" fill="#2f9f7a" opacity="0.5"/>
</g></g>
<rect x="547.2" y="148.6" width="134.2" height="99.8" fill="#15151d"/>
<mask id="mc2" maskUnits="userSpaceOnUse" x="547.2" y="148.6" width="134.2" height="99.8"><g filter="url(#bl)">
<ellipse cx="597.2" cy="158.6" rx="46" ry="8" transform="rotate(15 597.2 158.6)" fill="#fff" opacity="0.7"/>
<ellipse cx="569.2" cy="193.6" rx="22" ry="18" transform="rotate(30 569.2 193.6)" fill="#fff" opacity="0.85"/>
<ellipse cx="609.2" cy="196.6" rx="26" ry="24" transform="rotate(20 609.2 196.6)" fill="#fff" opacity="0.9"/>
<ellipse cx="587.2" cy="224.6" rx="36" ry="10" transform="rotate(20 587.2 224.6)" fill="#fff" opacity="0.75"/>
<ellipse cx="623.2" cy="231.6" rx="26" ry="8" transform="rotate(15 623.2 231.6)" fill="#fff" opacity="0.6"/>
<ellipse cx="642.2" cy="178.6" rx="10" ry="16" transform="rotate(20 642.2 178.6)" fill="#fff" opacity="0.5"/>
<ellipse cx="675.2" cy="188.6" rx="6" ry="30" transform="rotate(5 675.2 188.6)" fill="#fff" opacity="0.75"/>
<ellipse cx="673.2" cy="236.6" rx="9" ry="13" transform="rotate(0 673.2 236.6)" fill="#fff" opacity="0.9"/>
<ellipse cx="567.2" cy="241.6" rx="20" ry="6" transform="rotate(0 567.2 241.6)" fill="#fff" opacity="0.4"/>
<ellipse cx="570.2" cy="172.6" rx="8" ry="4" transform="rotate(-25 570.2 172.6)" fill="#000" opacity="0.7"/>
<ellipse cx="608.2" cy="190.6" rx="3.5" ry="12" transform="rotate(25 608.2 190.6)" fill="#000" opacity="0.55"/>
<ellipse cx="597.2" cy="210.6" rx="10" ry="2.5" transform="rotate(-30 597.2 210.6)" fill="#000" opacity="0.5"/>
<ellipse cx="577.2" cy="154.6" rx="22" ry="2.5" transform="rotate(28 577.2 154.6)" fill="#000" opacity="0.5"/>
<ellipse cx="659.2" cy="208.6" rx="7" ry="40" transform="rotate(8 659.2 208.6)" fill="#000" opacity="0.6"/>
</g></mask>
<filter id="uc2" color-interpolation-filters="sRGB" filterUnits="userSpaceOnUse" x="547.2" y="148.6" width="134.2" height="99.8"><feTurbulence type="fractalNoise" baseFrequency="0.14" numOctaves="4" seed="11"/><feColorMatrix type="matrix" values="0 0 0 0 0.09  0 0 0 0 0.10  0 0 0 0 0.52  2.6 0 0 0 -0.95"/></filter>
<g clip-path="url(#c2)">
<rect x="547.2" y="148.6" width="134.2" height="99.8" fill="#17175c" opacity="0.5" mask="url(#mc2)"/>
<g mask="url(#mc2)"><rect x="547.2" y="148.6" width="134.2" height="99.8" filter="url(#uc2)"/></g>
<g filter="url(#bl1)">
<ellipse cx="552.2" cy="234.6" rx="5" ry="2.4" transform="rotate(-55 552.2 234.6)" fill="#3fb59a" opacity="0.85"/>
<ellipse cx="561.2" cy="241.6" rx="6" ry="2.2" transform="rotate(-30 561.2 241.6)" fill="#3fb59a" opacity="0.85"/>
<ellipse cx="569.2" cy="237.6" rx="3.4" ry="1.8" transform="rotate(-40 569.2 237.6)" fill="#3fb59a" opacity="0.75"/>
<ellipse cx="551.2" cy="244.6" rx="4" ry="2.4" transform="rotate(0 551.2 244.6)" fill="#3fb59a" opacity="0.8"/>
<ellipse cx="557.2" cy="228.6" rx="2" ry="1.2" transform="rotate(-40 557.2 228.6)" fill="#3fb59a" opacity="0.6"/>
<ellipse cx="574.2" cy="243.6" rx="2" ry="1.2" transform="rotate(-20 574.2 243.6)" fill="#3fb59a" opacity="0.6"/>
<ellipse cx="678.2" cy="214.6" rx="1.6" ry="3" transform="rotate(0 678.2 214.6)" fill="#3fb59a" opacity="0.7"/>
<ellipse cx="680.2" cy="168.6" rx="1.2" ry="2" transform="rotate(0 680.2 168.6)" fill="#3fb59a" opacity="0.7"/>
<ellipse cx="647.2" cy="154.6" rx="2.4" ry="1.2" transform="rotate(40 647.2 154.6)" fill="#2f9f8a" opacity="0.6"/>
<ellipse cx="673.2" cy="200.6" rx="1.2" ry="2.4" transform="rotate(0 673.2 200.6)" fill="#2f9f8a" opacity="0.5"/>
<ellipse cx="587.2" cy="184.6" rx="1.5" ry="1" transform="rotate(0 587.2 184.6)" fill="#2f9f8a" opacity="0.5"/>
<ellipse cx="644.2" cy="194.6" rx="1.4" ry="1" transform="rotate(0 644.2 194.6)" fill="#2f9f8a" opacity="0.5"/>
<ellipse cx="627.2" cy="220.6" rx="1.5" ry="1" transform="rotate(0 627.2 220.6)" fill="#2f9f8a" opacity="0.4"/>
</g></g>
<text x="408.30" y="162.90" font-size="12.6" font-weight="bold" text-anchor="start" fill="#fff">SHC</text>
<text x="549.20" y="162.90" font-size="12.6" font-weight="bold" text-anchor="start" fill="#fff">CSC</text>
<rect x="528.7" y="244.2" width="10.4" height="2.2" fill="#fff"/>
<rect x="669.6" y="244.2" width="10.4" height="2.2" fill="#fff"/>
<rect x="258.20" y="48.90" width="10.20" height="52.80" fill="#d6d6d6" stroke="#000" stroke-width="0.9"/>
<rect x="271.20" y="44.80" width="10.00" height="56.90" fill="#6a6a6a" stroke="#000" stroke-width="0.9"/>
<path d="M263.30 48.08V49.72M261.10 48.08h4.4M261.10 49.72h4.4" stroke="#000" stroke-width="0.8" fill="none"/>
<path d="M276.20 43.36V46.24M274.00 43.36h4.4M274.00 46.24h4.4" stroke="#000" stroke-width="0.8" fill="none"/>
<path d="M253.40 18.90V101.70H286.40" stroke="#000" stroke-width="0.9" fill="none"/>
<path d="M250.40 19.30H253.40" stroke="#000" stroke-width="0.9"/>
<text x="249.60" y="21.60" font-size="6.5" font-weight="bold" text-anchor="end" fill="#000">0.08</text>
<path d="M250.40 39.90H253.40" stroke="#000" stroke-width="0.9"/>
<text x="249.60" y="42.20" font-size="6.5" font-weight="bold" text-anchor="end" fill="#000">0.06</text>
<path d="M250.40 60.50H253.40" stroke="#000" stroke-width="0.9"/>
<text x="249.60" y="62.80" font-size="6.5" font-weight="bold" text-anchor="end" fill="#000">0.04</text>
<path d="M250.40 81.10H253.40" stroke="#000" stroke-width="0.9"/>
<text x="249.60" y="83.40" font-size="6.5" font-weight="bold" text-anchor="end" fill="#000">0.02</text>
<path d="M250.40 101.70H253.40" stroke="#000" stroke-width="0.9"/>
<text x="249.60" y="104.00" font-size="6.5" font-weight="bold" text-anchor="end" fill="#000">0.00</text>
<path d="M263.30 101.70v3" stroke="#000" stroke-width="0.9"/>
<text x="264.90" y="109.90" font-size="5.6" font-weight="normal" text-anchor="end" fill="#000" transform="rotate(-45 264.90 109.90)">SHC</text>
<path d="M276.20 101.70v3" stroke="#000" stroke-width="0.9"/>
<text x="277.80" y="109.90" font-size="5.6" font-weight="normal" text-anchor="end" fill="#000" transform="rotate(-45 277.80 109.90)">CSC</text>
<circle cx="263.30" cy="46.08" r="1.3" fill="#000"/>
<circle cx="261.10" cy="47.11" r="1.3" fill="#000"/>
<circle cx="265.50" cy="48.14" r="1.3" fill="#000"/>
<circle cx="266.50" cy="48.14" r="1.3" fill="#000"/>
<circle cx="263.30" cy="49.17" r="1.3" fill="#000"/>
<circle cx="259.30" cy="49.17" r="1.3" fill="#000"/>
<circle cx="263.30" cy="52.26" r="1.3" fill="#000"/>
<circle cx="266.50" cy="47.11" r="1.3" fill="#000"/>
<circle cx="276.20" cy="36.81" r="1.3" fill="#000"/>
<circle cx="276.20" cy="40.93" r="1.3" fill="#000"/>
<circle cx="274.00" cy="42.99" r="1.3" fill="#000"/>
<circle cx="276.20" cy="44.02" r="1.3" fill="#000"/>
<circle cx="278.40" cy="45.05" r="1.3" fill="#000"/>
<circle cx="276.20" cy="47.11" r="1.3" fill="#000"/>
<circle cx="274.00" cy="48.14" r="1.3" fill="#000"/>
<circle cx="278.40" cy="48.14" r="1.3" fill="#000"/>
<path d="M264.30 29.20H274.40" stroke="#555" stroke-width="0.6"/>
<text x="269.35" y="31.10" font-size="7" font-weight="bold" text-anchor="middle" fill="#000">*</text>
<text x="232.20" y="60.40" font-size="7" font-weight="bold" text-anchor="middle" fill="#000" transform="rotate(-90 232.20 60.40)">Trabecular thickness [mm]</text>
<text x="239.30" y="8.80" font-size="10.5" font-weight="bold" text-anchor="start" fill="#000">b</text>
<rect x="341.50" y="65.80" width="9.40" height="35.80" fill="#d6d6d6" stroke="#000" stroke-width="0.9"/>
<rect x="354.20" y="60.90" width="9.80" height="40.70" fill="#6a6a6a" stroke="#000" stroke-width="0.9"/>
<path d="M346.20 64.65V66.95M344.00 64.65h4.4M344.00 66.95h4.4" stroke="#000" stroke-width="0.8" fill="none"/>
<path d="M359.10 55.97V65.83M356.90 55.97h4.4M356.90 65.83h4.4" stroke="#000" stroke-width="0.8" fill="none"/>
<path d="M336.20 19.00V101.60H369.50" stroke="#000" stroke-width="0.9" fill="none"/>
<path d="M333.20 19.40H336.20" stroke="#000" stroke-width="0.9"/>
<text x="332.40" y="21.70" font-size="6.5" font-weight="bold" text-anchor="end" fill="#000">5</text>
<path d="M333.20 35.84H336.20" stroke="#000" stroke-width="0.9"/>
<text x="332.40" y="38.14" font-size="6.5" font-weight="bold" text-anchor="end" fill="#000">4</text>
<path d="M333.20 52.28H336.20" stroke="#000" stroke-width="0.9"/>
<text x="332.40" y="54.58" font-size="6.5" font-weight="bold" text-anchor="end" fill="#000">3</text>
<path d="M333.20 68.72H336.20" stroke="#000" stroke-width="0.9"/>
<text x="332.40" y="71.02" font-size="6.5" font-weight="bold" text-anchor="end" fill="#000">2</text>
<path d="M333.20 85.16H336.20" stroke="#000" stroke-width="0.9"/>
<text x="332.40" y="87.46" font-size="6.5" font-weight="bold" text-anchor="end" fill="#000">1</text>
<path d="M333.20 101.60H336.20" stroke="#000" stroke-width="0.9"/>
<text x="332.40" y="103.90" font-size="6.5" font-weight="bold" text-anchor="end" fill="#000">0</text>
<path d="M346.20 101.60v3" stroke="#000" stroke-width="0.9"/>
<text x="347.80" y="109.80" font-size="5.6" font-weight="normal" text-anchor="end" fill="#000" transform="rotate(-45 347.80 109.80)">SHC</text>
<path d="M359.10 101.60v3" stroke="#000" stroke-width="0.9"/>
<text x="360.70" y="109.80" font-size="5.6" font-weight="normal" text-anchor="end" fill="#000" transform="rotate(-45 360.70 109.80)">CSC</text>
<circle cx="346.20" cy="58.86" r="1.3" fill="#000"/>
<circle cx="344.00" cy="59.68" r="1.3" fill="#000"/>
<circle cx="346.20" cy="63.79" r="1.3" fill="#000"/>
<circle cx="344.00" cy="64.61" r="1.3" fill="#000"/>
<circle cx="348.40" cy="65.43" r="1.3" fill="#000"/>
<circle cx="346.20" cy="66.25" r="1.3" fill="#000"/>
<circle cx="344.00" cy="67.08" r="1.3" fill="#000"/>
<circle cx="348.40" cy="67.90" r="1.3" fill="#000"/>
<circle cx="359.10" cy="36.66" r="1.3" fill="#000"/>
<circle cx="359.10" cy="49.81" r="1.3" fill="#000"/>
<circle cx="359.10" cy="58.86" r="1.3" fill="#000"/>
<circle cx="359.10" cy="63.79" r="1.3" fill="#000"/>
<circle cx="356.90" cy="65.43" r="1.3" fill="#000"/>
<circle cx="359.10" cy="75.30" r="1.3" fill="#000"/>
<circle cx="359.10" cy="78.58" r="1.3" fill="#000"/>
<circle cx="359.10" cy="61.32" r="1.3" fill="#000"/>
<path d="M347.50 31.60H357.00" stroke="#555" stroke-width="0.6"/>
<text x="352.25" y="30.70" font-size="4.8" font-weight="normal" text-anchor="middle" fill="#000">n.s.</text>
<text x="323.90" y="60.80" font-size="7" font-weight="bold" text-anchor="middle" fill="#000" transform="rotate(-90 323.90 60.80)">Trabecular number [1/mm]</text>
<text x="325.30" y="8.80" font-size="10.5" font-weight="bold" text-anchor="start" fill="#000">c</text>
<rect x="418.50" y="49.00" width="9.90" height="53.00" fill="#d6d6d6" stroke="#000" stroke-width="0.9"/>
<rect x="431.60" y="42.50" width="10.00" height="59.50" fill="#6a6a6a" stroke="#000" stroke-width="0.9"/>
<path d="M423.45 48.09V49.91M421.25 48.09h4.4M421.25 49.91h4.4" stroke="#000" stroke-width="0.8" fill="none"/>
<path d="M436.60 41.01V43.99M434.40 41.01h4.4M434.40 43.99h4.4" stroke="#000" stroke-width="0.8" fill="none"/>
<path d="M413.00 19.00V102.00H447.20" stroke="#000" stroke-width="0.9" fill="none"/>
<path d="M410.00 19.40H413.00" stroke="#000" stroke-width="0.9"/>
<text x="409.20" y="21.70" font-size="6.5" font-weight="bold" text-anchor="end" fill="#000">1000</text>
<path d="M410.00 35.92H413.00" stroke="#000" stroke-width="0.9"/>
<text x="409.20" y="38.22" font-size="6.5" font-weight="bold" text-anchor="end" fill="#000">800</text>
<path d="M410.00 52.44H413.00" stroke="#000" stroke-width="0.9"/>
<text x="409.20" y="54.74" font-size="6.5" font-weight="bold" text-anchor="end" fill="#000">600</text>
<path d="M410.00 68.96H413.00" stroke="#000" stroke-width="0.9"/>
<text x="409.20" y="71.26" font-size="6.5" font-weight="bold" text-anchor="end" fill="#000">400</text>
<path d="M410.00 85.48H413.00" stroke="#000" stroke-width="0.9"/>
<text x="409.20" y="87.78" font-size="6.5" font-weight="bold" text-anchor="end" fill="#000">200</text>
<path d="M410.00 102.00H413.00" stroke="#000" stroke-width="0.9"/>
<text x="409.20" y="104.30" font-size="6.5" font-weight="bold" text-anchor="end" fill="#000">0</text>
<path d="M423.45 102.00v3" stroke="#000" stroke-width="0.9"/>
<text x="425.05" y="110.20" font-size="5.6" font-weight="normal" text-anchor="end" fill="#000" transform="rotate(-45 425.05 110.20)">SHC</text>
<path d="M436.60 102.00v3" stroke="#000" stroke-width="0.9"/>
<text x="438.20" y="110.20" font-size="5.6" font-weight="normal" text-anchor="end" fill="#000" transform="rotate(-45 438.20 110.20)">CSC</text>
<circle cx="423.45" cy="40.88" r="1.3" fill="#000"/>
<circle cx="423.45" cy="46.66" r="1.3" fill="#000"/>
<circle cx="421.25" cy="47.48" r="1.3" fill="#000"/>
<circle cx="425.65" cy="47.48" r="1.3" fill="#000"/>
<circle cx="426.65" cy="48.31" r="1.3" fill="#000"/>
<circle cx="426.65" cy="48.31" r="1.3" fill="#000"/>
<circle cx="426.65" cy="48.72" r="1.3" fill="#000"/>
<circle cx="423.45" cy="49.14" r="1.3" fill="#000"/>
<circle cx="436.60" cy="36.75" r="1.3" fill="#000"/>
<circle cx="434.40" cy="38.40" r="1.3" fill="#000"/>
<circle cx="436.60" cy="39.22" r="1.3" fill="#000"/>
<circle cx="434.40" cy="40.88" r="1.3" fill="#000"/>
<circle cx="436.60" cy="42.53" r="1.3" fill="#000"/>
<circle cx="434.40" cy="44.18" r="1.3" fill="#000"/>
<circle cx="436.60" cy="47.48" r="1.3" fill="#000"/>
<circle cx="434.40" cy="48.31" r="1.3" fill="#000"/>
<path d="M424.60 29.00H434.60" stroke="#555" stroke-width="0.6"/>
<text x="429.60" y="30.90" font-size="7" font-weight="bold" text-anchor="middle" fill="#000">**</text>
<text x="390.70" y="60.80" font-size="7" font-weight="bold" text-anchor="middle" fill="#000" transform="rotate(-90 390.70 60.80)">Tb. TMD [mgHA/ccm]</text>
<text x="398.50" y="8.80" font-size="10.5" font-weight="bold" text-anchor="start" fill="#000">d</text>
<rect x="500.10" y="42.30" width="9.50" height="59.40" fill="#d6d6d6" stroke="#000" stroke-width="0.9"/>
<rect x="513.00" y="41.90" width="9.70" height="59.80" fill="#6a6a6a" stroke="#000" stroke-width="0.9"/>
<path d="M504.85 40.99V43.61M502.65 40.99h4.4M502.65 43.61h4.4" stroke="#000" stroke-width="0.8" fill="none"/>
<path d="M517.85 39.27V44.53M515.65 39.27h4.4M515.65 44.53h4.4" stroke="#000" stroke-width="0.8" fill="none"/>
<path d="M494.60 19.20V101.70H527.90" stroke="#000" stroke-width="0.9" fill="none"/>
<path d="M491.60 19.60H494.60" stroke="#000" stroke-width="0.9"/>
<text x="490.80" y="21.90" font-size="6.5" font-weight="bold" text-anchor="end" fill="#000">0.25</text>
<path d="M491.60 36.02H494.60" stroke="#000" stroke-width="0.9"/>
<text x="490.80" y="38.32" font-size="6.5" font-weight="bold" text-anchor="end" fill="#000">0.20</text>
<path d="M491.60 52.44H494.60" stroke="#000" stroke-width="0.9"/>
<text x="490.80" y="54.74" font-size="6.5" font-weight="bold" text-anchor="end" fill="#000">0.15</text>
<path d="M491.60 68.86H494.60" stroke="#000" stroke-width="0.9"/>
<text x="490.80" y="71.16" font-size="6.5" font-weight="bold" text-anchor="end" fill="#000">0.10</text>
<path d="M491.60 85.28H494.60" stroke="#000" stroke-width="0.9"/>
<text x="490.80" y="87.58" font-size="6.5" font-weight="bold" text-anchor="end" fill="#000">0.05</text>
<path d="M491.60 101.70H494.60" stroke="#000" stroke-width="0.9"/>
<text x="490.80" y="104.00" font-size="6.5" font-weight="bold" text-anchor="end" fill="#000">0.00</text>
<path d="M504.85 101.70v3" stroke="#000" stroke-width="0.9"/>
<text x="506.45" y="109.90" font-size="5.6" font-weight="normal" text-anchor="end" fill="#000" transform="rotate(-45 506.45 109.90)">SHC</text>
<path d="M517.85 101.70v3" stroke="#000" stroke-width="0.9"/>
<text x="519.45" y="109.90" font-size="5.6" font-weight="normal" text-anchor="end" fill="#000" transform="rotate(-45 519.45 109.90)">CSC</text>
<circle cx="504.85" cy="37.66" r="1.3" fill="#000"/>
<circle cx="502.65" cy="39.30" r="1.3" fill="#000"/>
<circle cx="504.85" cy="39.96" r="1.3" fill="#000"/>
<circle cx="507.05" cy="40.95" r="1.3" fill="#000"/>
<circle cx="504.85" cy="42.59" r="1.3" fill="#000"/>
<circle cx="504.85" cy="45.87" r="1.3" fill="#000"/>
<circle cx="502.65" cy="47.51" r="1.3" fill="#000"/>
<circle cx="508.85" cy="39.30" r="1.3" fill="#000"/>
<circle cx="517.85" cy="32.08" r="1.3" fill="#000"/>
<circle cx="515.65" cy="32.74" r="1.3" fill="#000"/>
<circle cx="517.85" cy="39.30" r="1.3" fill="#000"/>
<circle cx="515.65" cy="40.95" r="1.3" fill="#000"/>
<circle cx="517.85" cy="42.59" r="1.3" fill="#000"/>
<circle cx="517.85" cy="47.51" r="1.3" fill="#000"/>
<circle cx="517.85" cy="52.44" r="1.3" fill="#000"/>
<circle cx="515.65" cy="44.23" r="1.3" fill="#000"/>
<path d="M505.60 27.20H515.40" stroke="#555" stroke-width="0.6"/>
<text x="510.50" y="26.30" font-size="4.8" font-weight="normal" text-anchor="middle" fill="#000">n.s.</text>
<text x="474.10" y="60.80" font-size="7" font-weight="bold" text-anchor="middle" fill="#000" transform="rotate(-90 474.10 60.80)">Trabecular separation [mm]</text>
<text x="481.20" y="8.80" font-size="10.5" font-weight="bold" text-anchor="start" fill="#000">e</text>
<rect x="577.70" y="40.90" width="9.90" height="61.10" fill="#d6d6d6" stroke="#000" stroke-width="0.9"/>
<rect x="590.40" y="33.70" width="10.20" height="68.30" fill="#6a6a6a" stroke="#000" stroke-width="0.9"/>
<path d="M582.65 39.52V42.28M580.45 39.52h4.4M580.45 42.28h4.4" stroke="#000" stroke-width="0.8" fill="none"/>
<path d="M595.50 31.50V35.90M593.30 31.50h4.4M593.30 35.90h4.4" stroke="#000" stroke-width="0.8" fill="none"/>
<path d="M572.40 19.00V102.00H606.30" stroke="#000" stroke-width="0.9" fill="none"/>
<path d="M569.40 19.40H572.40" stroke="#000" stroke-width="0.9"/>
<text x="568.60" y="21.70" font-size="6.5" font-weight="bold" text-anchor="end" fill="#000">1500</text>
<path d="M569.40 46.93H572.40" stroke="#000" stroke-width="0.9"/>
<text x="568.60" y="49.23" font-size="6.5" font-weight="bold" text-anchor="end" fill="#000">1000</text>
<path d="M569.40 74.47H572.40" stroke="#000" stroke-width="0.9"/>
<text x="568.60" y="76.77" font-size="6.5" font-weight="bold" text-anchor="end" fill="#000">500</text>
<path d="M569.40 102.00H572.40" stroke="#000" stroke-width="0.9"/>
<text x="568.60" y="104.30" font-size="6.5" font-weight="bold" text-anchor="end" fill="#000">0</text>
<path d="M582.65 102.00v3" stroke="#000" stroke-width="0.9"/>
<text x="584.25" y="110.20" font-size="5.6" font-weight="normal" text-anchor="end" fill="#000" transform="rotate(-45 584.25 110.20)">SHC</text>
<path d="M595.50 102.00v3" stroke="#000" stroke-width="0.9"/>
<text x="597.10" y="110.20" font-size="5.6" font-weight="normal" text-anchor="end" fill="#000" transform="rotate(-45 597.10 110.20)">CSC</text>
<circle cx="582.65" cy="30.41" r="1.3" fill="#000"/>
<circle cx="582.65" cy="38.67" r="1.3" fill="#000"/>
<circle cx="580.45" cy="39.77" r="1.3" fill="#000"/>
<circle cx="584.85" cy="40.33" r="1.3" fill="#000"/>
<circle cx="582.65" cy="41.43" r="1.3" fill="#000"/>
<circle cx="580.45" cy="41.98" r="1.3" fill="#000"/>
<circle cx="584.85" cy="42.53" r="1.3" fill="#000"/>
<circle cx="585.85" cy="41.43" r="1.3" fill="#000"/>
<circle cx="595.50" cy="27.11" r="1.3" fill="#000"/>
<circle cx="593.30" cy="28.21" r="1.3" fill="#000"/>
<circle cx="595.50" cy="29.31" r="1.3" fill="#000"/>
<circle cx="593.30" cy="30.41" r="1.3" fill="#000"/>
<circle cx="595.50" cy="33.17" r="1.3" fill="#000"/>
<circle cx="595.50" cy="38.67" r="1.3" fill="#000"/>
<circle cx="595.50" cy="41.43" r="1.3" fill="#000"/>
<circle cx="593.30" cy="41.98" r="1.3" fill="#000"/>
<path d="M583.80 21.60H593.60" stroke="#555" stroke-width="0.6"/>
<text x="588.70" y="23.50" font-size="7" font-weight="bold" text-anchor="middle" fill="#000">*</text>
<text x="549.90" y="60.80" font-size="7" font-weight="bold" text-anchor="middle" fill="#000" transform="rotate(-90 549.90 60.80)">Cortical TMD [mgHA/ccm]</text>
<text x="557.60" y="8.80" font-size="10.5" font-weight="bold" text-anchor="start" fill="#000">f</text>
<rect x="657.00" y="37.20" width="9.70" height="64.80" fill="#d6d6d6" stroke="#000" stroke-width="0.9"/>
<rect x="669.30" y="36.20" width="10.20" height="65.80" fill="#6a6a6a" stroke="#000" stroke-width="0.9"/>
<path d="M661.85 34.72V39.68M659.65 34.72h4.4M659.65 39.68h4.4" stroke="#000" stroke-width="0.8" fill="none"/>
<path d="M674.40 34.96V37.44M672.20 34.96h4.4M672.20 37.44h4.4" stroke="#000" stroke-width="0.8" fill="none"/>
<path d="M651.30 19.00V102.00H685.00" stroke="#000" stroke-width="0.9" fill="none"/>
<path d="M648.30 19.40H651.30" stroke="#000" stroke-width="0.9"/>
<text x="647.50" y="21.70" font-size="6.5" font-weight="bold" text-anchor="end" fill="#000">200</text>
<path d="M648.30 40.05H651.30" stroke="#000" stroke-width="0.9"/>
<text x="647.50" y="42.35" font-size="6.5" font-weight="bold" text-anchor="end" fill="#000">150</text>
<path d="M648.30 60.70H651.30" stroke="#000" stroke-width="0.9"/>
<text x="647.50" y="63.00" font-size="6.5" font-weight="bold" text-anchor="end" fill="#000">100</text>
<path d="M648.30 81.35H651.30" stroke="#000" stroke-width="0.9"/>
<text x="647.50" y="83.65" font-size="6.5" font-weight="bold" text-anchor="end" fill="#000">50</text>
<path d="M648.30 102.00H651.30" stroke="#000" stroke-width="0.9"/>
<text x="647.50" y="104.30" font-size="6.5" font-weight="bold" text-anchor="end" fill="#000">0</text>
<path d="M661.85 102.00v3" stroke="#000" stroke-width="0.9"/>
<text x="663.45" y="110.20" font-size="5.6" font-weight="normal" text-anchor="end" fill="#000" transform="rotate(-45 663.45 110.20)">SHC</text>
<path d="M674.40 102.00v3" stroke="#000" stroke-width="0.9"/>
<text x="676.00" y="110.20" font-size="5.6" font-weight="normal" text-anchor="end" fill="#000" transform="rotate(-45 676.00 110.20)">CSC</text>
<circle cx="661.85" cy="27.66" r="1.3" fill="#000"/>
<circle cx="661.85" cy="32.62" r="1.3" fill="#000"/>
<circle cx="661.85" cy="35.92" r="1.3" fill="#000"/>
<circle cx="659.65" cy="37.98" r="1.3" fill="#000"/>
<circle cx="661.85" cy="40.88" r="1.3" fill="#000"/>
<circle cx="661.85" cy="46.24" r="1.3" fill="#000"/>
<circle cx="664.05" cy="36.75" r="1.3" fill="#000"/>
<circle cx="674.40" cy="32.62" r="1.3" fill="#000"/>
<circle cx="672.20" cy="33.03" r="1.3" fill="#000"/>
<circle cx="676.60" cy="33.44" r="1.3" fill="#000"/>
<circle cx="677.60" cy="33.86" r="1.3" fill="#000"/>
<circle cx="674.40" cy="35.92" r="1.3" fill="#000"/>
<circle cx="672.20" cy="37.98" r="1.3" fill="#000"/>
<circle cx="674.40" cy="40.05" r="1.3" fill="#000"/>
<circle cx="672.20" cy="40.88" r="1.3" fill="#000"/>
<path d="M662.80 20.30H672.80" stroke="#555" stroke-width="0.6"/>
<text x="667.80" y="19.40" font-size="4.8" font-weight="normal" text-anchor="middle" fill="#000">n.s.</text>
<text x="632.20" y="60.80" font-size="7" font-weight="bold" text-anchor="middle" fill="#000" transform="rotate(-90 632.20 60.80)">Growth plate thickness [µm]</text>
<text x="639.50" y="8.80" font-size="10.5" font-weight="bold" text-anchor="start" fill="#000">g</text>
<rect x="104.40" y="174.40" width="10.10" height="59.80" fill="#d6d6d6" stroke="#000" stroke-width="0.9"/>
<rect x="117.20" y="172.50" width="10.50" height="61.70" fill="#6a6a6a" stroke="#000" stroke-width="0.9"/>
<path d="M109.45 173.57V175.23M107.25 173.57h4.4M107.25 175.23h4.4" stroke="#000" stroke-width="0.8" fill="none"/>
<path d="M122.45 171.88V173.12M120.25 171.88h4.4M120.25 173.12h4.4" stroke="#000" stroke-width="0.8" fill="none"/>
<path d="M98.50 151.10V234.20H134.00" stroke="#000" stroke-width="0.9" fill="none"/>
<path d="M95.50 151.50H98.50" stroke="#000" stroke-width="0.9"/>
<text x="94.70" y="153.80" font-size="6.5" font-weight="bold" text-anchor="end" fill="#000">0.20</text>
<path d="M95.50 172.18H98.50" stroke="#000" stroke-width="0.9"/>
<text x="94.70" y="174.48" font-size="6.5" font-weight="bold" text-anchor="end" fill="#000">0.15</text>
<path d="M95.50 192.85H98.50" stroke="#000" stroke-width="0.9"/>
<text x="94.70" y="195.15" font-size="6.5" font-weight="bold" text-anchor="end" fill="#000">0.10</text>
<path d="M95.50 213.52H98.50" stroke="#000" stroke-width="0.9"/>
<text x="94.70" y="215.82" font-size="6.5" font-weight="bold" text-anchor="end" fill="#000">0.05</text>
<path d="M95.50 234.20H98.50" stroke="#000" stroke-width="0.9"/>
<text x="94.70" y="236.50" font-size="6.5" font-weight="bold" text-anchor="end" fill="#000">0.00</text>
<path d="M109.45 234.20v3" stroke="#000" stroke-width="0.9"/>
<text x="111.05" y="242.40" font-size="5.6" font-weight="normal" text-anchor="end" fill="#000" transform="rotate(-45 111.05 242.40)">SHC</text>
<path d="M122.45 234.20v3" stroke="#000" stroke-width="0.9"/>
<text x="124.05" y="242.40" font-size="5.6" font-weight="normal" text-anchor="end" fill="#000" transform="rotate(-45 124.05 242.40)">CSC</text>
<circle cx="109.45" cy="172.18" r="1.3" fill="#000"/>
<circle cx="107.25" cy="173.00" r="1.3" fill="#000"/>
<circle cx="111.65" cy="173.83" r="1.3" fill="#000"/>
<circle cx="112.65" cy="174.24" r="1.3" fill="#000"/>
<circle cx="109.45" cy="175.07" r="1.3" fill="#000"/>
<circle cx="107.25" cy="176.31" r="1.3" fill="#000"/>
<circle cx="109.45" cy="179.62" r="1.3" fill="#000"/>
<circle cx="122.45" cy="171.35" r="1.3" fill="#000"/>
<circle cx="120.25" cy="171.76" r="1.3" fill="#000"/>
<circle cx="124.65" cy="172.18" r="1.3" fill="#000"/>
<circle cx="125.65" cy="172.18" r="1.3" fill="#000"/>
<circle cx="125.65" cy="173.00" r="1.3" fill="#000"/>
<circle cx="118.45" cy="173.42" r="1.3" fill="#000"/>
<circle cx="122.45" cy="174.24" r="1.3" fill="#000"/>
<circle cx="120.25" cy="176.31" r="1.3" fill="#000"/>
<path d="M110.80 166.20H120.60" stroke="#555" stroke-width="0.6"/>
<text x="115.70" y="165.30" font-size="4.8" font-weight="normal" text-anchor="middle" fill="#000">n.s.</text>
<text x="78.30" y="192.60" font-size="7" font-weight="bold" text-anchor="middle" fill="#000" transform="rotate(-90 78.30 192.60)">Cortical thickness [µm]</text>
<text x="83.30" y="144.00" font-size="10.5" font-weight="bold" text-anchor="start" fill="#000">h</text>
<rect x="177.50" y="195.40" width="10.30" height="38.60" fill="#d6d6d6" stroke="#000" stroke-width="0.9"/>
<rect x="190.10" y="187.90" width="10.80" height="46.10" fill="#6a6a6a" stroke="#000" stroke-width="0.9"/>
<path d="M182.65 194.25V196.56M180.45 194.25h4.4M180.45 196.56h4.4" stroke="#000" stroke-width="0.8" fill="none"/>
<path d="M195.50 181.63V194.17M193.30 181.63h4.4M193.30 194.17h4.4" stroke="#000" stroke-width="0.8" fill="none"/>
<path d="M171.40 151.10V234.00H206.70" stroke="#000" stroke-width="0.9" fill="none"/>
<path d="M168.40 151.50H171.40" stroke="#000" stroke-width="0.9"/>
<text x="167.60" y="153.80" font-size="6.5" font-weight="bold" text-anchor="end" fill="#000">25</text>
<path d="M168.40 168.00H171.40" stroke="#000" stroke-width="0.9"/>
<text x="167.60" y="170.30" font-size="6.5" font-weight="bold" text-anchor="end" fill="#000">20</text>
<path d="M168.40 184.50H171.40" stroke="#000" stroke-width="0.9"/>
<text x="167.60" y="186.80" font-size="6.5" font-weight="bold" text-anchor="end" fill="#000">15</text>
<path d="M168.40 201.00H171.40" stroke="#000" stroke-width="0.9"/>
<text x="167.60" y="203.30" font-size="6.5" font-weight="bold" text-anchor="end" fill="#000">10</text>
<path d="M168.40 217.50H171.40" stroke="#000" stroke-width="0.9"/>
<text x="167.60" y="219.80" font-size="6.5" font-weight="bold" text-anchor="end" fill="#000">5</text>
<path d="M168.40 234.00H171.40" stroke="#000" stroke-width="0.9"/>
<text x="167.60" y="236.30" font-size="6.5" font-weight="bold" text-anchor="end" fill="#000">0</text>
<path d="M182.65 234.00v3" stroke="#000" stroke-width="0.9"/>
<text x="184.25" y="242.20" font-size="5.6" font-weight="normal" text-anchor="end" fill="#000" transform="rotate(-45 184.25 242.20)">SHC</text>
<path d="M195.50 234.00v3" stroke="#000" stroke-width="0.9"/>
<text x="197.10" y="242.20" font-size="5.6" font-weight="normal" text-anchor="end" fill="#000" transform="rotate(-45 197.10 242.20)">CSC</text>
<circle cx="182.65" cy="190.11" r="1.3" fill="#000"/>
<circle cx="182.65" cy="192.75" r="1.3" fill="#000"/>
<circle cx="180.45" cy="194.40" r="1.3" fill="#000"/>
<circle cx="182.65" cy="195.06" r="1.3" fill="#000"/>
<circle cx="184.85" cy="196.05" r="1.3" fill="#000"/>
<circle cx="182.65" cy="197.70" r="1.3" fill="#000"/>
<circle cx="180.45" cy="198.36" r="1.3" fill="#000"/>
<circle cx="195.50" cy="160.41" r="1.3" fill="#000"/>
<circle cx="195.50" cy="168.66" r="1.3" fill="#000"/>
<circle cx="195.50" cy="189.45" r="1.3" fill="#000"/>
<circle cx="193.30" cy="191.10" r="1.3" fill="#000"/>
<circle cx="195.50" cy="192.75" r="1.3" fill="#000"/>
<circle cx="195.50" cy="207.60" r="1.3" fill="#000"/>
<circle cx="193.30" cy="209.25" r="1.3" fill="#000"/>
<circle cx="193.30" cy="187.80" r="1.3" fill="#000"/>
<path d="M183.60 154.80H193.40" stroke="#555" stroke-width="0.6"/>
<text x="188.50" y="153.90" font-size="4.8" font-weight="normal" text-anchor="middle" fill="#000">n.s.</text>
<text x="157.00" y="192.40" font-size="7" font-weight="bold" text-anchor="middle" fill="#000" transform="rotate(-90 157.00 192.40)">BV/TV [%]</text>
<text x="159.80" y="144.00" font-size="10.5" font-weight="bold" text-anchor="start" fill="#000">i</text>
<rect x="257.70" y="173.20" width="10.20" height="61.00" fill="#d6d6d6" stroke="#000" stroke-width="0.9"/>
<rect x="270.60" y="173.70" width="10.50" height="60.50" fill="#6a6a6a" stroke="#000" stroke-width="0.9"/>
<path d="M262.80 172.95V173.45M260.60 172.95h4.4M260.60 173.45h4.4" stroke="#000" stroke-width="0.8" fill="none"/>
<path d="M275.85 173.41V173.99M273.65 173.41h4.4M273.65 173.99h4.4" stroke="#000" stroke-width="0.8" fill="none"/>
<path d="M252.40 151.10V234.20H286.20" stroke="#000" stroke-width="0.9" fill="none"/>
<path d="M249.40 151.50H252.40" stroke="#000" stroke-width="0.9"/>
<text x="248.60" y="153.80" font-size="6.5" font-weight="bold" text-anchor="end" fill="#000">20</text>
<path d="M249.40 172.18H252.40" stroke="#000" stroke-width="0.9"/>
<text x="248.60" y="174.48" font-size="6.5" font-weight="bold" text-anchor="end" fill="#000">15</text>
<path d="M249.40 192.85H252.40" stroke="#000" stroke-width="0.9"/>
<text x="248.60" y="195.15" font-size="6.5" font-weight="bold" text-anchor="end" fill="#000">10</text>
<path d="M249.40 213.52H252.40" stroke="#000" stroke-width="0.9"/>
<text x="248.60" y="215.82" font-size="6.5" font-weight="bold" text-anchor="end" fill="#000">5</text>
<path d="M249.40 234.20H252.40" stroke="#000" stroke-width="0.9"/>
<text x="248.60" y="236.50" font-size="6.5" font-weight="bold" text-anchor="end" fill="#000">0</text>
<path d="M262.80 234.20v3" stroke="#000" stroke-width="0.9"/>
<text x="264.40" y="242.40" font-size="5.6" font-weight="normal" text-anchor="end" fill="#000" transform="rotate(-45 264.40 242.40)">SHC</text>
<path d="M275.85 234.20v3" stroke="#000" stroke-width="0.9"/>
<text x="277.45" y="242.40" font-size="5.6" font-weight="normal" text-anchor="end" fill="#000" transform="rotate(-45 277.45 242.40)">CSC</text>
<circle cx="262.80" cy="171.76" r="1.3" fill="#000"/>
<circle cx="260.60" cy="172.18" r="1.3" fill="#000"/>
<circle cx="265.00" cy="172.59" r="1.3" fill="#000"/>
<circle cx="266.00" cy="173.00" r="1.3" fill="#000"/>
<circle cx="266.00" cy="173.42" r="1.3" fill="#000"/>
<circle cx="266.00" cy="173.00" r="1.3" fill="#000"/>
<circle cx="266.00" cy="172.59" r="1.3" fill="#000"/>
<circle cx="275.85" cy="172.18" r="1.3" fill="#000"/>
<circle cx="273.65" cy="172.59" r="1.3" fill="#000"/>
<circle cx="278.05" cy="173.00" r="1.3" fill="#000"/>
<circle cx="279.05" cy="173.42" r="1.3" fill="#000"/>
<circle cx="279.05" cy="173.83" r="1.3" fill="#000"/>
<circle cx="271.85" cy="174.24" r="1.3" fill="#000"/>
<circle cx="279.05" cy="173.42" r="1.3" fill="#000"/>
<circle cx="279.05" cy="173.00" r="1.3" fill="#000"/>
<path d="M263.60 166.20H273.40" stroke="#555" stroke-width="0.6"/>
<text x="268.50" y="165.30" font-size="4.8" font-weight="normal" text-anchor="middle" fill="#000">n.s.</text>
<text x="237.30" y="193.00" font-size="7" font-weight="bold" text-anchor="middle" fill="#000" transform="rotate(-90 237.30 193.00)">Femur length [mm]</text>
<text x="242.40" y="144.00" font-size="10.5" font-weight="bold" text-anchor="start" fill="#000">j</text>
<rect x="340.40" y="162.70" width="10.20" height="70.90" fill="#d6d6d6" stroke="#000" stroke-width="0.9"/>
<rect x="353.30" y="161.50" width="10.50" height="72.10" fill="#6a6a6a" stroke="#000" stroke-width="0.9"/>
<path d="M345.50 162.08V163.32M343.30 162.08h4.4M343.30 163.32h4.4" stroke="#000" stroke-width="0.8" fill="none"/>
<path d="M358.55 161.17V161.83M356.35 161.17h4.4M356.35 161.83h4.4" stroke="#000" stroke-width="0.8" fill="none"/>
<path d="M334.60 150.60V233.60H369.20" stroke="#000" stroke-width="0.9" fill="none"/>
<path d="M331.60 151.00H334.60" stroke="#000" stroke-width="0.9"/>
<text x="330.80" y="153.30" font-size="6.5" font-weight="bold" text-anchor="end" fill="#000">20</text>
<path d="M331.60 171.65H334.60" stroke="#000" stroke-width="0.9"/>
<text x="330.80" y="173.95" font-size="6.5" font-weight="bold" text-anchor="end" fill="#000">15</text>
<path d="M331.60 192.30H334.60" stroke="#000" stroke-width="0.9"/>
<text x="330.80" y="194.60" font-size="6.5" font-weight="bold" text-anchor="end" fill="#000">10</text>
<path d="M331.60 212.95H334.60" stroke="#000" stroke-width="0.9"/>
<text x="330.80" y="215.25" font-size="6.5" font-weight="bold" text-anchor="end" fill="#000">5</text>
<path d="M331.60 233.60H334.60" stroke="#000" stroke-width="0.9"/>
<text x="330.80" y="235.90" font-size="6.5" font-weight="bold" text-anchor="end" fill="#000">0</text>
<path d="M345.50 233.60v3" stroke="#000" stroke-width="0.9"/>
<text x="347.10" y="241.80" font-size="5.6" font-weight="normal" text-anchor="end" fill="#000" transform="rotate(-45 347.10 241.80)">SHC</text>
<path d="M358.55 233.60v3" stroke="#000" stroke-width="0.9"/>
<text x="360.15" y="241.80" font-size="5.6" font-weight="normal" text-anchor="end" fill="#000" transform="rotate(-45 360.15 241.80)">CSC</text>
<circle cx="345.50" cy="160.09" r="1.3" fill="#000"/>
<circle cx="343.30" cy="161.32" r="1.3" fill="#000"/>
<circle cx="347.70" cy="162.15" r="1.3" fill="#000"/>
<circle cx="345.50" cy="162.56" r="1.3" fill="#000"/>
<circle cx="341.50" cy="163.39" r="1.3" fill="#000"/>
<circle cx="349.50" cy="164.22" r="1.3" fill="#000"/>
<circle cx="345.50" cy="165.45" r="1.3" fill="#000"/>
<circle cx="348.70" cy="161.74" r="1.3" fill="#000"/>
<circle cx="358.55" cy="159.67" r="1.3" fill="#000"/>
<circle cx="356.35" cy="160.50" r="1.3" fill="#000"/>
<circle cx="360.75" cy="160.91" r="1.3" fill="#000"/>
<circle cx="361.75" cy="161.32" r="1.3" fill="#000"/>
<circle cx="361.75" cy="161.74" r="1.3" fill="#000"/>
<circle cx="358.55" cy="162.15" r="1.3" fill="#000"/>
<circle cx="361.75" cy="161.32" r="1.3" fill="#000"/>
<path d="M346.60 154.00H356.40" stroke="#555" stroke-width="0.6"/>
<text x="351.50" y="153.10" font-size="4.8" font-weight="normal" text-anchor="middle" fill="#000">n.s.</text>
<text x="320.20" y="192.50" font-size="7" font-weight="bold" text-anchor="middle" fill="#000" transform="rotate(-90 320.20 192.50)">Tibia length [mm]</text>
<text x="324.20" y="144.00" font-size="10.5" font-weight="bold" text-anchor="start" fill="#000">k</text>
<rect x="340.60" y="389.30" width="10.10" height="7.40" fill="#d6d6d6" stroke="#000" stroke-width="0.9"/>
<rect x="353.40" y="370.10" width="10.30" height="26.60" fill="#6a6a6a" stroke="#000" stroke-width="0.9"/>
<path d="M345.65 387.92V390.68M343.45 387.92h4.4M343.45 390.68h4.4" stroke="#000" stroke-width="0.8" fill="none"/>
<path d="M358.55 363.19V377.01M356.35 363.19h4.4M356.35 377.01h4.4" stroke="#000" stroke-width="0.8" fill="none"/>
<path d="M335.70 313.40V396.70H368.60" stroke="#000" stroke-width="0.9" fill="none"/>
<path d="M332.70 313.80H335.70" stroke="#000" stroke-width="0.9"/>
<text x="331.90" y="316.10" font-size="6.5" font-weight="bold" text-anchor="end" fill="#000">3</text>
<path d="M332.70 341.43H335.70" stroke="#000" stroke-width="0.9"/>
<text x="331.90" y="343.73" font-size="6.5" font-weight="bold" text-anchor="end" fill="#000">2</text>
<path d="M332.70 369.07H335.70" stroke="#000" stroke-width="0.9"/>
<text x="331.90" y="371.37" font-size="6.5" font-weight="bold" text-anchor="end" fill="#000">1</text>
<path d="M332.70 396.70H335.70" stroke="#000" stroke-width="0.9"/>
<text x="331.90" y="399.00" font-size="6.5" font-weight="bold" text-anchor="end" fill="#000">0</text>
<path d="M345.65 396.70v3" stroke="#000" stroke-width="0.9"/>
<text x="347.25" y="404.90" font-size="5.6" font-weight="normal" text-anchor="end" fill="#000" transform="rotate(-45 347.25 404.90)">SHC</text>
<path d="M358.55 396.70v3" stroke="#000" stroke-width="0.9"/>
<text x="360.15" y="404.90" font-size="5.6" font-weight="normal" text-anchor="end" fill="#000" transform="rotate(-45 360.15 404.90)">CSC</text>
<circle cx="345.65" cy="382.33" r="1.3" fill="#000"/>
<circle cx="345.65" cy="387.03" r="1.3" fill="#000"/>
<circle cx="343.45" cy="388.41" r="1.3" fill="#000"/>
<circle cx="345.65" cy="389.79" r="1.3" fill="#000"/>
<circle cx="343.45" cy="391.17" r="1.3" fill="#000"/>
<circle cx="345.65" cy="392.56" r="1.3" fill="#000"/>
<circle cx="343.45" cy="393.94" r="1.3" fill="#000"/>
<circle cx="347.85" cy="388.96" r="1.3" fill="#000"/>
<circle cx="358.55" cy="324.85" r="1.3" fill="#000"/>
<circle cx="358.55" cy="369.07" r="1.3" fill="#000"/>
<circle cx="358.55" cy="371.83" r="1.3" fill="#000"/>
<circle cx="358.55" cy="374.59" r="1.3" fill="#000"/>
<circle cx="356.35" cy="375.98" r="1.3" fill="#000"/>
<circle cx="358.55" cy="377.36" r="1.3" fill="#000"/>
<circle cx="358.55" cy="380.12" r="1.3" fill="#000"/>
<circle cx="356.35" cy="381.50" r="1.3" fill="#000"/>
<path d="M348.00 319.90H357.40" stroke="#555" stroke-width="0.6"/>
<text x="352.70" y="321.80" font-size="7" font-weight="bold" text-anchor="middle" fill="#000">***</text>
<text x="315.40" y="355.40" font-size="7" font-weight="bold" text-anchor="middle" fill="#000" transform="rotate(-90 315.40 355.40)">Number of TH<tspan font-size="70%" dy="-2">+</tspan><tspan dy="2">Ly6G</tspan><tspan font-size="70%" dy="-2">+</tspan><tspan dy="2"> cells</tspan></text>
<text x="324.00" y="355.40" font-size="7" font-weight="bold" text-anchor="middle" fill="#000" transform="rotate(-90 324.00 355.40)">[% of living cells]</text>
<text x="325.00" y="302.10" font-size="10.5" font-weight="bold" text-anchor="start" fill="#000">n</text>
<rect x="418.10" y="393.90" width="10.50" height="2.80" fill="#d6d6d6" stroke="#000" stroke-width="0.9"/>
<rect x="431.40" y="382.70" width="10.50" height="14.00" fill="#6a6a6a" stroke="#000" stroke-width="0.9"/>
<path d="M423.35 391.69V396.11M421.15 391.69h4.4M421.15 396.11h4.4" stroke="#000" stroke-width="0.8" fill="none"/>
<path d="M436.65 375.52V389.88M434.45 375.52h4.4M434.45 389.88h4.4" stroke="#000" stroke-width="0.8" fill="none"/>
<path d="M413.40 313.40V396.70H446.80" stroke="#000" stroke-width="0.9" fill="none"/>
<path d="M410.40 313.80H413.40" stroke="#000" stroke-width="0.9"/>
<text x="409.60" y="316.10" font-size="6.5" font-weight="bold" text-anchor="end" fill="#000">0.015</text>
<path d="M410.40 341.43H413.40" stroke="#000" stroke-width="0.9"/>
<text x="409.60" y="343.73" font-size="6.5" font-weight="bold" text-anchor="end" fill="#000">0.010</text>
<path d="M410.40 369.07H413.40" stroke="#000" stroke-width="0.9"/>
<text x="409.60" y="371.37" font-size="6.5" font-weight="bold" text-anchor="end" fill="#000">0.005</text>
<path d="M410.40 396.70H413.40" stroke="#000" stroke-width="0.9"/>
<text x="409.60" y="399.00" font-size="6.5" font-weight="bold" text-anchor="end" fill="#000">0.000</text>
<path d="M423.35 396.70v3" stroke="#000" stroke-width="0.9"/>
<text x="424.95" y="404.90" font-size="5.6" font-weight="normal" text-anchor="end" fill="#000" transform="rotate(-45 424.95 404.90)">SHC</text>
<path d="M436.65 396.70v3" stroke="#000" stroke-width="0.9"/>
<text x="438.25" y="404.90" font-size="5.6" font-weight="normal" text-anchor="end" fill="#000" transform="rotate(-45 438.25 404.90)">CSC</text>
<circle cx="423.35" cy="384.54" r="1.3" fill="#000"/>
<circle cx="421.15" cy="385.09" r="1.3" fill="#000"/>
<circle cx="423.35" cy="396.70" r="1.3" fill="#000"/>
<circle cx="419.35" cy="396.70" r="1.3" fill="#000"/>
<circle cx="427.35" cy="396.70" r="1.3" fill="#000"/>
<circle cx="426.55" cy="396.70" r="1.3" fill="#000"/>
<circle cx="426.55" cy="396.70" r="1.3" fill="#000"/>
<circle cx="436.65" cy="340.33" r="1.3" fill="#000"/>
<circle cx="436.65" cy="362.43" r="1.3" fill="#000"/>
<circle cx="436.65" cy="383.44" r="1.3" fill="#000"/>
<circle cx="436.65" cy="396.70" r="1.3" fill="#000"/>
<circle cx="432.65" cy="396.70" r="1.3" fill="#000"/>
<circle cx="440.65" cy="396.70" r="1.3" fill="#000"/>
<circle cx="439.85" cy="396.70" r="1.3" fill="#000"/>
<path d="M426.30 336.00H436.10" stroke="#555" stroke-width="0.6"/>
<text x="431.20" y="335.10" font-size="4.8" font-weight="normal" text-anchor="middle" fill="#000">n.s.</text>
<text x="380.30" y="355.40" font-size="7" font-weight="bold" text-anchor="middle" fill="#000" transform="rotate(-90 380.30 355.40)">Number of TH<tspan font-size="70%" dy="-2">+</tspan><tspan dy="2">CD8</tspan><tspan font-size="70%" dy="-2">+</tspan><tspan dy="2"> cells</tspan></text>
<text x="389.00" y="355.40" font-size="7" font-weight="bold" text-anchor="middle" fill="#000" transform="rotate(-90 389.00 355.40)">[% of living cells]</text>
<text x="397.60" y="302.10" font-size="10.5" font-weight="bold" text-anchor="start" fill="#000">o</text>
<rect x="499.50" y="375.30" width="10.50" height="21.40" fill="#d6d6d6" stroke="#000" stroke-width="0.9"/>
<rect x="512.60" y="382.30" width="10.50" height="14.40" fill="#6a6a6a" stroke="#000" stroke-width="0.9"/>
<path d="M504.75 368.34V382.26M502.55 368.34h4.4M502.55 382.26h4.4" stroke="#000" stroke-width="0.8" fill="none"/>
<path d="M517.85 378.32V386.28M515.65 378.32h4.4M515.65 386.28h4.4" stroke="#000" stroke-width="0.8" fill="none"/>
<path d="M493.70 313.40V396.70H528.30" stroke="#000" stroke-width="0.9" fill="none"/>
<path d="M490.70 313.80H493.70" stroke="#000" stroke-width="0.9"/>
<text x="489.90" y="316.10" font-size="6.5" font-weight="bold" text-anchor="end" fill="#000">0.25</text>
<path d="M490.70 330.38H493.70" stroke="#000" stroke-width="0.9"/>
<text x="489.90" y="332.68" font-size="6.5" font-weight="bold" text-anchor="end" fill="#000">0.20</text>
<path d="M490.70 346.96H493.70" stroke="#000" stroke-width="0.9"/>
<text x="489.90" y="349.26" font-size="6.5" font-weight="bold" text-anchor="end" fill="#000">0.15</text>
<path d="M490.70 363.54H493.70" stroke="#000" stroke-width="0.9"/>
<text x="489.90" y="365.84" font-size="6.5" font-weight="bold" text-anchor="end" fill="#000">0.10</text>
<path d="M490.70 380.12H493.70" stroke="#000" stroke-width="0.9"/>
<text x="489.90" y="382.42" font-size="6.5" font-weight="bold" text-anchor="end" fill="#000">0.05</text>
<path d="M490.70 396.70H493.70" stroke="#000" stroke-width="0.9"/>
<text x="489.90" y="399.00" font-size="6.5" font-weight="bold" text-anchor="end" fill="#000">0.00</text>
<path d="M504.75 396.70v3" stroke="#000" stroke-width="0.9"/>
<text x="506.35" y="404.90" font-size="5.6" font-weight="normal" text-anchor="end" fill="#000" transform="rotate(-45 506.35 404.90)">SHC</text>
<path d="M517.85 396.70v3" stroke="#000" stroke-width="0.9"/>
<text x="519.45" y="404.90" font-size="5.6" font-weight="normal" text-anchor="end" fill="#000" transform="rotate(-45 519.45 404.90)">CSC</text>
<circle cx="504.75" cy="331.04" r="1.3" fill="#000"/>
<circle cx="504.75" cy="367.52" r="1.3" fill="#000"/>
<circle cx="504.75" cy="376.80" r="1.3" fill="#000"/>
<circle cx="502.55" cy="378.46" r="1.3" fill="#000"/>
<circle cx="504.75" cy="381.78" r="1.3" fill="#000"/>
<circle cx="504.75" cy="385.09" r="1.3" fill="#000"/>
<circle cx="504.75" cy="393.38" r="1.3" fill="#000"/>
<circle cx="506.95" cy="380.12" r="1.3" fill="#000"/>
<circle cx="517.85" cy="360.89" r="1.3" fill="#000"/>
<circle cx="517.85" cy="374.15" r="1.3" fill="#000"/>
<circle cx="517.85" cy="381.78" r="1.3" fill="#000"/>
<circle cx="515.65" cy="383.44" r="1.3" fill="#000"/>
<circle cx="517.85" cy="386.75" r="1.3" fill="#000"/>
<circle cx="517.85" cy="390.07" r="1.3" fill="#000"/>
<circle cx="517.85" cy="393.38" r="1.3" fill="#000"/>
<circle cx="520.05" cy="385.09" r="1.3" fill="#000"/>
<path d="M506.00 325.50H516.00" stroke="#555" stroke-width="0.6"/>
<text x="511.00" y="324.60" font-size="4.8" font-weight="normal" text-anchor="middle" fill="#000">n.s.</text>
<text x="465.70" y="355.40" font-size="7" font-weight="bold" text-anchor="middle" fill="#000" transform="rotate(-90 465.70 355.40)">Number of TH<tspan font-size="70%" dy="-2">+</tspan><tspan dy="2">CD4</tspan><tspan font-size="70%" dy="-2">+</tspan><tspan dy="2"> cells</tspan></text>
<text x="474.60" y="355.40" font-size="7" font-weight="bold" text-anchor="middle" fill="#000" transform="rotate(-90 474.60 355.40)">[% of living cells]</text>
<text x="481.00" y="302.10" font-size="10.5" font-weight="bold" text-anchor="start" fill="#000">p</text>
<rect x="577.30" y="367.10" width="10.50" height="29.20" fill="#d6d6d6" stroke="#000" stroke-width="0.9"/>
<rect x="590.60" y="386.20" width="10.50" height="10.10" fill="#6a6a6a" stroke="#000" stroke-width="0.9"/>
<path d="M582.55 359.22V374.98M580.35 359.22h4.4M580.35 374.98h4.4" stroke="#000" stroke-width="0.8" fill="none"/>
<path d="M595.85 384.33V388.07M593.65 384.33h4.4M593.65 388.07h4.4" stroke="#000" stroke-width="0.8" fill="none"/>
<path d="M571.50 313.00V396.30H606.00" stroke="#000" stroke-width="0.9" fill="none"/>
<path d="M568.50 313.40H571.50" stroke="#000" stroke-width="0.9"/>
<text x="567.70" y="315.70" font-size="6.5" font-weight="bold" text-anchor="end" fill="#000">0.4</text>
<path d="M568.50 334.12H571.50" stroke="#000" stroke-width="0.9"/>
<text x="567.70" y="336.43" font-size="6.5" font-weight="bold" text-anchor="end" fill="#000">0.3</text>
<path d="M568.50 354.85H571.50" stroke="#000" stroke-width="0.9"/>
<text x="567.70" y="357.15" font-size="6.5" font-weight="bold" text-anchor="end" fill="#000">0.2</text>
<path d="M568.50 375.57H571.50" stroke="#000" stroke-width="0.9"/>
<text x="567.70" y="377.88" font-size="6.5" font-weight="bold" text-anchor="end" fill="#000">0.1</text>
<path d="M568.50 396.30H571.50" stroke="#000" stroke-width="0.9"/>
<text x="567.70" y="398.60" font-size="6.5" font-weight="bold" text-anchor="end" fill="#000">0.0</text>
<path d="M582.55 396.30v3" stroke="#000" stroke-width="0.9"/>
<text x="584.15" y="404.50" font-size="5.6" font-weight="normal" text-anchor="end" fill="#000" transform="rotate(-45 584.15 404.50)">SHC</text>
<path d="M595.85 396.30v3" stroke="#000" stroke-width="0.9"/>
<text x="597.45" y="404.50" font-size="5.6" font-weight="normal" text-anchor="end" fill="#000" transform="rotate(-45 597.45 404.50)">CSC</text>
<circle cx="582.55" cy="328.32" r="1.3" fill="#000"/>
<circle cx="582.55" cy="353.81" r="1.3" fill="#000"/>
<circle cx="582.55" cy="360.03" r="1.3" fill="#000"/>
<circle cx="582.55" cy="370.39" r="1.3" fill="#000"/>
<circle cx="582.55" cy="384.90" r="1.3" fill="#000"/>
<circle cx="580.35" cy="385.94" r="1.3" fill="#000"/>
<circle cx="584.75" cy="385.94" r="1.3" fill="#000"/>
<circle cx="595.85" cy="375.99" r="1.3" fill="#000"/>
<circle cx="595.85" cy="383.87" r="1.3" fill="#000"/>
<circle cx="593.65" cy="384.90" r="1.3" fill="#000"/>
<circle cx="598.05" cy="385.94" r="1.3" fill="#000"/>
<circle cx="595.85" cy="386.97" r="1.3" fill="#000"/>
<circle cx="595.85" cy="390.08" r="1.3" fill="#000"/>
<circle cx="595.85" cy="394.23" r="1.3" fill="#000"/>
<circle cx="599.05" cy="385.94" r="1.3" fill="#000"/>
<path d="M584.30 323.40H594.10" stroke="#555" stroke-width="0.6"/>
<text x="589.20" y="325.30" font-size="7" font-weight="bold" text-anchor="middle" fill="#000">*</text>
<text x="545.80" y="355.00" font-size="7" font-weight="bold" text-anchor="middle" fill="#000" transform="rotate(-90 545.80 355.00)">Number of TH<tspan font-size="70%" dy="-2">+</tspan><tspan dy="2">F4/80</tspan><tspan font-size="70%" dy="-2">+</tspan><tspan dy="2"> cells</tspan></text>
<text x="555.20" y="355.00" font-size="7" font-weight="bold" text-anchor="middle" fill="#000" transform="rotate(-90 555.20 355.00)">[% of living cells]</text>
<text x="560.20" y="302.10" font-size="10.5" font-weight="bold" text-anchor="start" fill="#000">q</text>
<rect x="104.40" y="616.10" width="10.10" height="70.00" fill="#d6d6d6" stroke="#000" stroke-width="0.9"/>
<rect x="117.20" y="617.20" width="10.50" height="68.90" fill="#6a6a6a" stroke="#000" stroke-width="0.9"/>
<path d="M109.45 615.00V617.20M107.25 615.00h4.4M107.25 617.20h4.4" stroke="#000" stroke-width="0.8" fill="none"/>
<path d="M122.45 616.65V617.75M120.25 616.65h4.4M120.25 617.75h4.4" stroke="#000" stroke-width="0.8" fill="none"/>
<path d="M98.50 603.30V686.10H133.10" stroke="#000" stroke-width="0.9" fill="none"/>
<path d="M95.50 603.70H98.50" stroke="#000" stroke-width="0.9"/>
<text x="94.70" y="606.00" font-size="6.5" font-weight="bold" text-anchor="end" fill="#000">0.06</text>
<path d="M95.50 631.17H98.50" stroke="#000" stroke-width="0.9"/>
<text x="94.70" y="633.47" font-size="6.5" font-weight="bold" text-anchor="end" fill="#000">0.04</text>
<path d="M95.50 658.63H98.50" stroke="#000" stroke-width="0.9"/>
<text x="94.70" y="660.93" font-size="6.5" font-weight="bold" text-anchor="end" fill="#000">0.02</text>
<path d="M95.50 686.10H98.50" stroke="#000" stroke-width="0.9"/>
<text x="94.70" y="688.40" font-size="6.5" font-weight="bold" text-anchor="end" fill="#000">0.00</text>
<path d="M109.45 686.10v3" stroke="#000" stroke-width="0.9"/>
<text x="111.05" y="694.30" font-size="5.6" font-weight="normal" text-anchor="end" fill="#000" transform="rotate(-45 111.05 694.30)">SHC</text>
<path d="M122.45 686.10v3" stroke="#000" stroke-width="0.9"/>
<text x="124.05" y="694.30" font-size="5.6" font-weight="normal" text-anchor="end" fill="#000" transform="rotate(-45 124.05 694.30)">CSC</text>
<circle cx="109.45" cy="611.25" r="1.3" fill="#000"/>
<circle cx="109.45" cy="614.69" r="1.3" fill="#000"/>
<circle cx="107.25" cy="616.06" r="1.3" fill="#000"/>
<circle cx="109.45" cy="617.43" r="1.3" fill="#000"/>
<circle cx="107.25" cy="618.81" r="1.3" fill="#000"/>
<circle cx="111.65" cy="615.37" r="1.3" fill="#000"/>
<circle cx="122.45" cy="616.06" r="1.3" fill="#000"/>
<circle cx="120.25" cy="616.75" r="1.3" fill="#000"/>
<circle cx="124.65" cy="617.43" r="1.3" fill="#000"/>
<circle cx="125.65" cy="617.43" r="1.3" fill="#000"/>
<circle cx="118.45" cy="618.12" r="1.3" fill="#000"/>
<circle cx="122.45" cy="618.81" r="1.3" fill="#000"/>
<circle cx="120.25" cy="619.49" r="1.3" fill="#000"/>
<path d="M110.20 607.20H119.60" stroke="#555" stroke-width="0.6"/>
<text x="114.90" y="606.30" font-size="4.8" font-weight="normal" text-anchor="middle" fill="#000">n.s.</text>
<text x="78.30" y="645.00" font-size="7" font-weight="bold" text-anchor="middle" fill="#000" transform="rotate(-90 78.30 645.00)">Trabecular thickness [mm]</text>
<text x="83.80" y="594.00" font-size="10.5" font-weight="bold" text-anchor="start" fill="#000">s</text>
<rect x="177.50" y="632.90" width="10.30" height="53.20" fill="#d6d6d6" stroke="#000" stroke-width="0.9"/>
<rect x="190.10" y="639.90" width="10.80" height="46.20" fill="#6a6a6a" stroke="#000" stroke-width="0.9"/>
<path d="M182.65 630.43V635.37M180.45 630.43h4.4M180.45 635.37h4.4" stroke="#000" stroke-width="0.8" fill="none"/>
<path d="M195.50 635.99V643.81M193.30 635.99h4.4M193.30 643.81h4.4" stroke="#000" stroke-width="0.8" fill="none"/>
<path d="M171.40 603.30V686.10H206.00" stroke="#000" stroke-width="0.9" fill="none"/>
<path d="M168.40 603.70H171.40" stroke="#000" stroke-width="0.9"/>
<text x="167.60" y="606.00" font-size="6.5" font-weight="bold" text-anchor="end" fill="#000">4</text>
<path d="M168.40 624.30H171.40" stroke="#000" stroke-width="0.9"/>
<text x="167.60" y="626.60" font-size="6.5" font-weight="bold" text-anchor="end" fill="#000">3</text>
<path d="M168.40 644.90H171.40" stroke="#000" stroke-width="0.9"/>
<text x="167.60" y="647.20" font-size="6.5" font-weight="bold" text-anchor="end" fill="#000">2</text>
<path d="M168.40 665.50H171.40" stroke="#000" stroke-width="0.9"/>
<text x="167.60" y="667.80" font-size="6.5" font-weight="bold" text-anchor="end" fill="#000">1</text>
<path d="M168.40 686.10H171.40" stroke="#000" stroke-width="0.9"/>
<text x="167.60" y="688.40" font-size="6.5" font-weight="bold" text-anchor="end" fill="#000">0</text>
<path d="M182.65 686.10v3" stroke="#000" stroke-width="0.9"/>
<text x="184.25" y="694.30" font-size="5.6" font-weight="normal" text-anchor="end" fill="#000" transform="rotate(-45 184.25 694.30)">SHC</text>
<path d="M195.50 686.10v3" stroke="#000" stroke-width="0.9"/>
<text x="197.10" y="694.30" font-size="5.6" font-weight="normal" text-anchor="end" fill="#000" transform="rotate(-45 197.10 694.30)">CSC</text>
<circle cx="182.65" cy="626.36" r="1.3" fill="#000"/>
<circle cx="180.45" cy="626.77" r="1.3" fill="#000"/>
<circle cx="182.65" cy="632.54" r="1.3" fill="#000"/>
<circle cx="180.45" cy="633.57" r="1.3" fill="#000"/>
<circle cx="182.65" cy="636.66" r="1.3" fill="#000"/>
<circle cx="182.65" cy="644.90" r="1.3" fill="#000"/>
<circle cx="195.50" cy="623.27" r="1.3" fill="#000"/>
<circle cx="195.50" cy="633.57" r="1.3" fill="#000"/>
<circle cx="193.30" cy="635.63" r="1.3" fill="#000"/>
<circle cx="195.50" cy="638.72" r="1.3" fill="#000"/>
<circle cx="195.50" cy="644.90" r="1.3" fill="#000"/>
<circle cx="195.50" cy="649.02" r="1.3" fill="#000"/>
<circle cx="195.50" cy="655.20" r="1.3" fill="#000"/>
<path d="M183.80 617.70H193.60" stroke="#555" stroke-width="0.6"/>
<text x="188.70" y="616.80" font-size="4.8" font-weight="normal" text-anchor="middle" fill="#000">n.s.</text>
<text x="160.00" y="645.00" font-size="7" font-weight="bold" text-anchor="middle" fill="#000" transform="rotate(-90 160.00 645.00)">Trabecular number [1/mm]</text>
<text x="160.80" y="594.00" font-size="10.5" font-weight="bold" text-anchor="start" fill="#000">t</text>
<rect x="258.20" y="615.40" width="10.10" height="70.70" fill="#d6d6d6" stroke="#000" stroke-width="0.9"/>
<rect x="271.10" y="620.00" width="10.50" height="66.10" fill="#6a6a6a" stroke="#000" stroke-width="0.9"/>
<path d="M263.25 615.09V615.71M261.05 615.09h4.4M261.05 615.71h4.4" stroke="#000" stroke-width="0.8" fill="none"/>
<path d="M276.35 619.49V620.51M274.15 619.49h4.4M274.15 620.51h4.4" stroke="#000" stroke-width="0.8" fill="none"/>
<path d="M252.40 603.30V686.10H286.20" stroke="#000" stroke-width="0.9" fill="none"/>
<path d="M249.40 603.70H252.40" stroke="#000" stroke-width="0.9"/>
<text x="248.60" y="606.00" font-size="6.5" font-weight="bold" text-anchor="end" fill="#000">800</text>
<path d="M249.40 624.30H252.40" stroke="#000" stroke-width="0.9"/>
<text x="248.60" y="626.60" font-size="6.5" font-weight="bold" text-anchor="end" fill="#000">600</text>
<path d="M249.40 644.90H252.40" stroke="#000" stroke-width="0.9"/>
<text x="248.60" y="647.20" font-size="6.5" font-weight="bold" text-anchor="end" fill="#000">400</text>
<path d="M249.40 665.50H252.40" stroke="#000" stroke-width="0.9"/>
<text x="248.60" y="667.80" font-size="6.5" font-weight="bold" text-anchor="end" fill="#000">200</text>
<path d="M249.40 686.10H252.40" stroke="#000" stroke-width="0.9"/>
<text x="248.60" y="688.40" font-size="6.5" font-weight="bold" text-anchor="end" fill="#000">0</text>
<path d="M263.25 686.10v3" stroke="#000" stroke-width="0.9"/>
<text x="264.85" y="694.30" font-size="5.6" font-weight="normal" text-anchor="end" fill="#000" transform="rotate(-45 264.85 694.30)">SHC</text>
<path d="M276.35 686.10v3" stroke="#000" stroke-width="0.9"/>
<text x="277.95" y="694.30" font-size="5.6" font-weight="normal" text-anchor="end" fill="#000" transform="rotate(-45 277.95 694.30)">CSC</text>
<circle cx="263.25" cy="614.00" r="1.3" fill="#000"/>
<circle cx="261.05" cy="614.52" r="1.3" fill="#000"/>
<circle cx="265.45" cy="615.03" r="1.3" fill="#000"/>
<circle cx="266.45" cy="615.55" r="1.3" fill="#000"/>
<circle cx="259.25" cy="616.06" r="1.3" fill="#000"/>
<circle cx="266.45" cy="615.03" r="1.3" fill="#000"/>
<circle cx="276.35" cy="617.09" r="1.3" fill="#000"/>
<circle cx="274.15" cy="618.12" r="1.3" fill="#000"/>
<circle cx="278.55" cy="618.63" r="1.3" fill="#000"/>
<circle cx="279.55" cy="619.15" r="1.3" fill="#000"/>
<circle cx="276.35" cy="619.67" r="1.3" fill="#000"/>
<circle cx="272.35" cy="620.18" r="1.3" fill="#000"/>
<circle cx="279.55" cy="620.70" r="1.3" fill="#000"/>
<path d="M264.80 606.70H274.60" stroke="#555" stroke-width="0.6"/>
<text x="269.70" y="608.60" font-size="7" font-weight="bold" text-anchor="middle" fill="#000">***</text>
<text x="234.20" y="644.60" font-size="7" font-weight="bold" text-anchor="middle" fill="#000" transform="rotate(-90 234.20 644.60)">Tb. TMD [mgHA/ccm]</text>
<text x="238.80" y="594.00" font-size="10.5" font-weight="bold" text-anchor="start" fill="#000">u</text>
<rect x="340.40" y="631.00" width="10.60" height="55.10" fill="#d6d6d6" stroke="#000" stroke-width="0.9"/>
<rect x="353.30" y="625.90" width="10.50" height="60.20" fill="#6a6a6a" stroke="#000" stroke-width="0.9"/>
<path d="M345.70 629.35V632.65M343.50 629.35h4.4M343.50 632.65h4.4" stroke="#000" stroke-width="0.8" fill="none"/>
<path d="M358.55 623.92V627.88M356.35 623.92h4.4M356.35 627.88h4.4" stroke="#000" stroke-width="0.8" fill="none"/>
<path d="M334.60 603.30V686.10H369.60" stroke="#000" stroke-width="0.9" fill="none"/>
<path d="M331.60 603.70H334.60" stroke="#000" stroke-width="0.9"/>
<text x="330.80" y="606.00" font-size="6.5" font-weight="bold" text-anchor="end" fill="#000">0.25</text>
<path d="M331.60 620.18H334.60" stroke="#000" stroke-width="0.9"/>
<text x="330.80" y="622.48" font-size="6.5" font-weight="bold" text-anchor="end" fill="#000">0.20</text>
<path d="M331.60 636.66H334.60" stroke="#000" stroke-width="0.9"/>
<text x="330.80" y="638.96" font-size="6.5" font-weight="bold" text-anchor="end" fill="#000">0.15</text>
<path d="M331.60 653.14H334.60" stroke="#000" stroke-width="0.9"/>
<text x="330.80" y="655.44" font-size="6.5" font-weight="bold" text-anchor="end" fill="#000">0.10</text>
<path d="M331.60 669.62H334.60" stroke="#000" stroke-width="0.9"/>
<text x="330.80" y="671.92" font-size="6.5" font-weight="bold" text-anchor="end" fill="#000">0.05</text>
<path d="M331.60 686.10H334.60" stroke="#000" stroke-width="0.9"/>
<text x="330.80" y="688.40" font-size="6.5" font-weight="bold" text-anchor="end" fill="#000">0.00</text>
<path d="M345.70 686.10v3" stroke="#000" stroke-width="0.9"/>
<text x="347.30" y="694.30" font-size="5.6" font-weight="normal" text-anchor="end" fill="#000" transform="rotate(-45 347.30 694.30)">SHC</text>
<path d="M358.55 686.10v3" stroke="#000" stroke-width="0.9"/>
<text x="360.15" y="694.30" font-size="5.6" font-weight="normal" text-anchor="end" fill="#000" transform="rotate(-45 360.15 694.30)">CSC</text>
<circle cx="345.70" cy="623.48" r="1.3" fill="#000"/>
<circle cx="345.70" cy="628.42" r="1.3" fill="#000"/>
<circle cx="343.50" cy="630.07" r="1.3" fill="#000"/>
<circle cx="345.70" cy="631.72" r="1.3" fill="#000"/>
<circle cx="343.50" cy="633.36" r="1.3" fill="#000"/>
<circle cx="345.70" cy="636.00" r="1.3" fill="#000"/>
<circle cx="358.55" cy="615.24" r="1.3" fill="#000"/>
<circle cx="358.55" cy="621.83" r="1.3" fill="#000"/>
<circle cx="356.35" cy="623.48" r="1.3" fill="#000"/>
<circle cx="358.55" cy="625.12" r="1.3" fill="#000"/>
<circle cx="356.35" cy="626.77" r="1.3" fill="#000"/>
<circle cx="358.55" cy="630.07" r="1.3" fill="#000"/>
<circle cx="358.55" cy="633.36" r="1.3" fill="#000"/>
<path d="M347.00 611.90H356.80" stroke="#555" stroke-width="0.6"/>
<text x="351.90" y="611.00" font-size="4.8" font-weight="normal" text-anchor="middle" fill="#000">n.s.</text>
<text x="315.50" y="645.00" font-size="7" font-weight="bold" text-anchor="middle" fill="#000" transform="rotate(-90 315.50 645.00)">Trabecular separation [mm]</text>
<text x="320.60" y="594.00" font-size="10.5" font-weight="bold" text-anchor="start" fill="#000">v</text>
<rect x="418.40" y="632.20" width="10.30" height="53.90" fill="#d6d6d6" stroke="#000" stroke-width="0.9"/>
<rect x="431.30" y="639.90" width="10.50" height="46.20" fill="#6a6a6a" stroke="#000" stroke-width="0.9"/>
<path d="M423.55 629.73V634.67M421.35 629.73h4.4M421.35 634.67h4.4" stroke="#000" stroke-width="0.8" fill="none"/>
<path d="M436.55 636.19V643.61M434.35 636.19h4.4M434.35 643.61h4.4" stroke="#000" stroke-width="0.8" fill="none"/>
<path d="M413.50 603.30V686.10H446.90" stroke="#000" stroke-width="0.9" fill="none"/>
<path d="M410.50 603.70H413.50" stroke="#000" stroke-width="0.9"/>
<text x="409.70" y="606.00" font-size="6.5" font-weight="bold" text-anchor="end" fill="#000">20</text>
<path d="M410.50 624.30H413.50" stroke="#000" stroke-width="0.9"/>
<text x="409.70" y="626.60" font-size="6.5" font-weight="bold" text-anchor="end" fill="#000">15</text>
<path d="M410.50 644.90H413.50" stroke="#000" stroke-width="0.9"/>
<text x="409.70" y="647.20" font-size="6.5" font-weight="bold" text-anchor="end" fill="#000">10</text>
<path d="M410.50 665.50H413.50" stroke="#000" stroke-width="0.9"/>
<text x="409.70" y="667.80" font-size="6.5" font-weight="bold" text-anchor="end" fill="#000">5</text>
<path d="M410.50 686.10H413.50" stroke="#000" stroke-width="0.9"/>
<text x="409.70" y="688.40" font-size="6.5" font-weight="bold" text-anchor="end" fill="#000">0</text>
<path d="M423.55 686.10v3" stroke="#000" stroke-width="0.9"/>
<text x="425.15" y="694.30" font-size="5.6" font-weight="normal" text-anchor="end" fill="#000" transform="rotate(-45 425.15 694.30)">SHC</text>
<path d="M436.55 686.10v3" stroke="#000" stroke-width="0.9"/>
<text x="438.15" y="694.30" font-size="5.6" font-weight="normal" text-anchor="end" fill="#000" transform="rotate(-45 438.15 694.30)">CSC</text>
<circle cx="423.55" cy="624.30" r="1.3" fill="#000"/>
<circle cx="421.35" cy="626.36" r="1.3" fill="#000"/>
<circle cx="423.55" cy="630.48" r="1.3" fill="#000"/>
<circle cx="421.35" cy="631.30" r="1.3" fill="#000"/>
<circle cx="425.75" cy="632.54" r="1.3" fill="#000"/>
<circle cx="423.55" cy="644.08" r="1.3" fill="#000"/>
<circle cx="436.55" cy="623.48" r="1.3" fill="#000"/>
<circle cx="436.55" cy="631.72" r="1.3" fill="#000"/>
<circle cx="436.55" cy="636.66" r="1.3" fill="#000"/>
<circle cx="436.55" cy="640.78" r="1.3" fill="#000"/>
<circle cx="436.55" cy="644.90" r="1.3" fill="#000"/>
<circle cx="436.55" cy="649.02" r="1.3" fill="#000"/>
<circle cx="436.55" cy="653.14" r="1.3" fill="#000"/>
<path d="M424.00 617.70H433.60" stroke="#555" stroke-width="0.6"/>
<text x="428.80" y="616.80" font-size="4.8" font-weight="normal" text-anchor="middle" fill="#000">n.s.</text>
<text x="398.40" y="644.60" font-size="7" font-weight="bold" text-anchor="middle" fill="#000" transform="rotate(-90 398.40 644.60)">BV/TV [%]</text>
<text x="401.80" y="594.00" font-size="10.5" font-weight="bold" text-anchor="start" fill="#000">w</text>
<rect x="499.90" y="621.90" width="10.50" height="64.60" fill="#d6d6d6" stroke="#000" stroke-width="0.9"/>
<rect x="513.00" y="629.80" width="10.30" height="56.70" fill="#6a6a6a" stroke="#000" stroke-width="0.9"/>
<path d="M505.15 619.42V624.38M502.95 619.42h4.4M502.95 624.38h4.4" stroke="#000" stroke-width="0.8" fill="none"/>
<path d="M518.15 628.35V631.25M515.95 628.35h4.4M515.95 631.25h4.4" stroke="#000" stroke-width="0.8" fill="none"/>
<path d="M494.80 603.30V686.50H528.70" stroke="#000" stroke-width="0.9" fill="none"/>
<path d="M491.80 603.70H494.80" stroke="#000" stroke-width="0.9"/>
<text x="491.00" y="606.00" font-size="6.5" font-weight="bold" text-anchor="end" fill="#000">200</text>
<path d="M491.80 624.40H494.80" stroke="#000" stroke-width="0.9"/>
<text x="491.00" y="626.70" font-size="6.5" font-weight="bold" text-anchor="end" fill="#000">150</text>
<path d="M491.80 645.10H494.80" stroke="#000" stroke-width="0.9"/>
<text x="491.00" y="647.40" font-size="6.5" font-weight="bold" text-anchor="end" fill="#000">100</text>
<path d="M491.80 665.80H494.80" stroke="#000" stroke-width="0.9"/>
<text x="491.00" y="668.10" font-size="6.5" font-weight="bold" text-anchor="end" fill="#000">50</text>
<path d="M491.80 686.50H494.80" stroke="#000" stroke-width="0.9"/>
<text x="491.00" y="688.80" font-size="6.5" font-weight="bold" text-anchor="end" fill="#000">0</text>
<path d="M505.15 686.50v3" stroke="#000" stroke-width="0.9"/>
<text x="506.75" y="694.70" font-size="5.6" font-weight="normal" text-anchor="end" fill="#000" transform="rotate(-45 506.75 694.70)">SHC</text>
<path d="M518.15 686.50v3" stroke="#000" stroke-width="0.9"/>
<text x="519.75" y="694.70" font-size="5.6" font-weight="normal" text-anchor="end" fill="#000" transform="rotate(-45 519.75 694.70)">CSC</text>
<circle cx="505.15" cy="610.74" r="1.3" fill="#000"/>
<circle cx="505.15" cy="618.19" r="1.3" fill="#000"/>
<circle cx="502.95" cy="620.26" r="1.3" fill="#000"/>
<circle cx="505.15" cy="624.40" r="1.3" fill="#000"/>
<circle cx="502.95" cy="626.47" r="1.3" fill="#000"/>
<circle cx="505.15" cy="629.37" r="1.3" fill="#000"/>
<circle cx="518.15" cy="624.40" r="1.3" fill="#000"/>
<circle cx="515.95" cy="626.47" r="1.3" fill="#000"/>
<circle cx="518.15" cy="628.54" r="1.3" fill="#000"/>
<circle cx="515.95" cy="630.61" r="1.3" fill="#000"/>
<circle cx="518.15" cy="631.85" r="1.3" fill="#000"/>
<circle cx="520.35" cy="632.68" r="1.3" fill="#000"/>
<circle cx="515.95" cy="633.51" r="1.3" fill="#000"/>
<path d="M506.00 605.60H515.80" stroke="#555" stroke-width="0.6"/>
<text x="510.90" y="607.50" font-size="7" font-weight="bold" text-anchor="middle" fill="#000">*</text>
<text x="475.70" y="645.60" font-size="7" font-weight="bold" text-anchor="middle" fill="#000" transform="rotate(-90 475.70 645.60)">Growth plate thickness [µm]</text>
<text x="479.00" y="594.00" font-size="10.5" font-weight="bold" text-anchor="start" fill="#000">x</text>
<rect x="578.00" y="619.60" width="10.10" height="66.90" fill="#d6d6d6" stroke="#000" stroke-width="0.9"/>
<rect x="590.40" y="621.70" width="10.50" height="64.80" fill="#6a6a6a" stroke="#000" stroke-width="0.9"/>
<path d="M583.05 619.23V619.97M580.85 619.23h4.4M580.85 619.97h4.4" stroke="#000" stroke-width="0.8" fill="none"/>
<path d="M595.65 621.37V622.03M593.45 621.37h4.4M593.45 622.03h4.4" stroke="#000" stroke-width="0.8" fill="none"/>
<path d="M572.40 603.30V686.50H606.10" stroke="#000" stroke-width="0.9" fill="none"/>
<path d="M569.40 603.70H572.40" stroke="#000" stroke-width="0.9"/>
<text x="568.60" y="606.00" font-size="6.5" font-weight="bold" text-anchor="end" fill="#000">20</text>
<path d="M569.40 624.40H572.40" stroke="#000" stroke-width="0.9"/>
<text x="568.60" y="626.70" font-size="6.5" font-weight="bold" text-anchor="end" fill="#000">15</text>
<path d="M569.40 645.10H572.40" stroke="#000" stroke-width="0.9"/>
<text x="568.60" y="647.40" font-size="6.5" font-weight="bold" text-anchor="end" fill="#000">10</text>
<path d="M569.40 665.80H572.40" stroke="#000" stroke-width="0.9"/>
<text x="568.60" y="668.10" font-size="6.5" font-weight="bold" text-anchor="end" fill="#000">5</text>
<path d="M569.40 686.50H572.40" stroke="#000" stroke-width="0.9"/>
<text x="568.60" y="688.80" font-size="6.5" font-weight="bold" text-anchor="end" fill="#000">0</text>
<path d="M583.05 686.50v3" stroke="#000" stroke-width="0.9"/>
<text x="584.65" y="694.70" font-size="5.6" font-weight="normal" text-anchor="end" fill="#000" transform="rotate(-45 584.65 694.70)">SHC</text>
<path d="M595.65 686.50v3" stroke="#000" stroke-width="0.9"/>
<text x="597.25" y="694.70" font-size="5.6" font-weight="normal" text-anchor="end" fill="#000" transform="rotate(-45 597.25 694.70)">CSC</text>
<circle cx="583.05" cy="618.19" r="1.3" fill="#000"/>
<circle cx="580.85" cy="619.02" r="1.3" fill="#000"/>
<circle cx="585.25" cy="619.43" r="1.3" fill="#000"/>
<circle cx="586.25" cy="619.85" r="1.3" fill="#000"/>
<circle cx="586.25" cy="620.26" r="1.3" fill="#000"/>
<circle cx="583.05" cy="620.67" r="1.3" fill="#000"/>
<circle cx="595.65" cy="619.85" r="1.3" fill="#000"/>
<circle cx="593.45" cy="620.26" r="1.3" fill="#000"/>
<circle cx="597.85" cy="621.09" r="1.3" fill="#000"/>
<circle cx="598.85" cy="621.50" r="1.3" fill="#000"/>
<circle cx="591.65" cy="621.92" r="1.3" fill="#000"/>
<circle cx="595.65" cy="622.33" r="1.3" fill="#000"/>
<circle cx="598.85" cy="621.50" r="1.3" fill="#000"/>
<path d="M584.10 613.00H594.40" stroke="#555" stroke-width="0.6"/>
<text x="589.25" y="614.90" font-size="7" font-weight="bold" text-anchor="middle" fill="#000">*</text>
<text x="557.10" y="645.20" font-size="7" font-weight="bold" text-anchor="middle" fill="#000" transform="rotate(-90 557.10 645.20)">Femur length [mm]</text>
<text x="560.60" y="594.00" font-size="10.5" font-weight="bold" text-anchor="start" fill="#000">y</text>
</svg>
</body></html>
